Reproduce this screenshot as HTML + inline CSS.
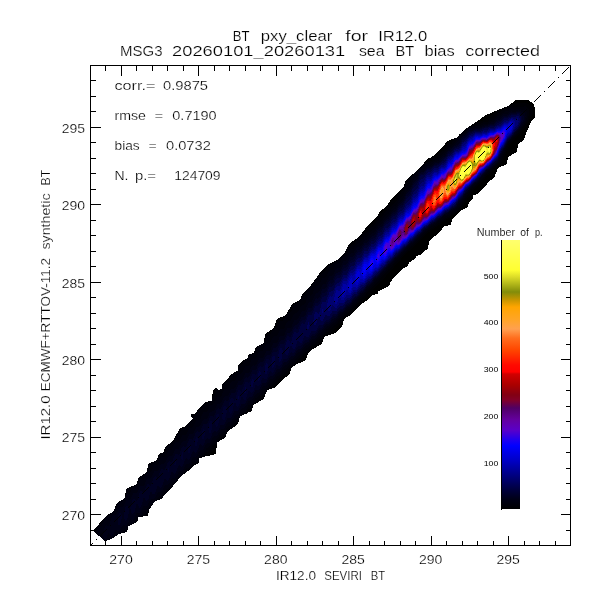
<!DOCTYPE html>
<html><head><meta charset="utf-8"><title>BT pxy_clear for IR12.0</title>
<style>html,body{margin:0;padding:0;background:#fff}svg{display:block}text{font-family:'Liberation Sans', sans-serif;fill:#000;stroke:#fff;stroke-width:0.22px}</style></head><body>
<svg width="600" height="600" viewBox="0 0 600 600">
<rect width="600" height="600" fill="#fff"/>
<defs><linearGradient id="cb" x1="0" y1="0" x2="0" y2="1">
<stop offset="0.0000" stop-color="#ffff6e"/>
<stop offset="0.1115" stop-color="#ffff32"/>
<stop offset="0.1375" stop-color="#dcdc28"/>
<stop offset="0.1933" stop-color="#828c0a"/>
<stop offset="0.2230" stop-color="#c89600"/>
<stop offset="0.2491" stop-color="#ffa500"/>
<stop offset="0.2974" stop-color="#ffa528"/>
<stop offset="0.3309" stop-color="#ffa050"/>
<stop offset="0.3643" stop-color="#ff6e1e"/>
<stop offset="0.4089" stop-color="#ff4600"/>
<stop offset="0.4647" stop-color="#ff0a00"/>
<stop offset="0.4907" stop-color="#ff0000"/>
<stop offset="0.4981" stop-color="#d20000"/>
<stop offset="0.5390" stop-color="#aa0000"/>
<stop offset="0.5762" stop-color="#820014"/>
<stop offset="0.5948" stop-color="#820028"/>
<stop offset="0.6245" stop-color="#500064"/>
<stop offset="0.6691" stop-color="#6400a0"/>
<stop offset="0.7063" stop-color="#5a00c8"/>
<stop offset="0.7435" stop-color="#1e00f0"/>
<stop offset="0.7658" stop-color="#0000ff"/>
<stop offset="0.8178" stop-color="#0000c8"/>
<stop offset="0.8736" stop-color="#000082"/>
<stop offset="0.9294" stop-color="#00003c"/>
<stop offset="0.9665" stop-color="#000014"/>
<stop offset="1.0000" stop-color="#000000"/>
</linearGradient></defs>
<g shape-rendering="crispEdges">
<path fill="#000" d="M93,531L106,516L109,514L113,512L117,503L125,498L126,489L137,484L138,478L147,472L148,464L157,460L159,454L164,452L165,447L173,441L180,428L185,426.7L193,418.7L190.3,416L191.7,414L196.3,413.3L197,410L205,402L211.7,400.7L213,390L216.3,388L219,390L221.7,388.7L222.3,384L228.3,378.7L229.7,376L234.3,372L237.7,371.3L238.3,365.3L243.7,360L247,359L249,354L254,353L256,347L264,343L265,334L274,328L277,319L286,315L292,304L300,300L303,293L311,285L317,277L322,270L329,264L337,260L345,252L349,244L360,236L367,226L377,217L380,211L386,207L392,198L404,186L406,180L420,168L428,158L430,158L436.7,153.3L444.7,145.3L446,142L451.3,139.3L457.3,137.3L459.3,134.7L464.3,130L476,122L486,115L498,110L508,106L516,100L528,100L534,104L535,110L535,118L532,120L526,133L524,140L518,144L517,152L508,157L507,164L498,168L494,178L488,182L486,185.5L482,189.5L478,194L473.5,195L473,198L469.5,201.5L467.5,207.5L460,211L452,219.5L451,225L444,226L440,232L429,241L428,249L425,250.5L421,254.5L416,256L415.5,258.5L409,262.5L407.5,266L403,268.5L395,276L390.5,282L390,285L386.5,287.5L378.5,291L377.5,294L372,295L369,299L360,305L352,314L344,319L342,327L335,333L324,337L322,344L311,350L307,355.5L306.5,358.5L304,361L295,365L291,368L290,374L281,381L274,388L267,390L264,399L253,405L252,411L240,416L238,424L227,432L225,438L217,442L216,454L199,458L199,463L194,465L189,470L181,476L171,488L161,499L155,501L149,510L148,516L138,517L137,522L128,526L127,532L119,534L111,539L105,541Z"/>
<path fill="#000005" d="M531.9,106.1L525.9,102.6L520.6,102.9L518.9,102.4L516.1,103.6L512.1,103.6L506.9,106.9L496.6,111.1L492.9,114.4L490.6,115.6L486.4,119.6L476.1,122.6L464.6,129.9L457.4,137.4L453.4,138.9L448.4,142.4L436.6,154.9L429.9,158.6L428.1,158.9L419.4,168.9L406.1,180.4L404.4,185.6L403.4,187.1L398.1,192.6L395.4,197.4L391.4,201.4L389.1,204.9L384.9,208.6L382.4,212.1L378.6,215.4L375.6,219.6L363.9,231.1L359.4,236.9L349.1,244.4L345.1,252.1L336.9,260.4L328.9,264.4L321.6,270.9L311.4,284.9L303.1,293.1L300.1,300.1L291.9,304.6L286.4,314.9L277.4,319.4L274.1,328.1L265.1,334.4L264.1,343.1L256.6,346.9L255.9,347.6L254.4,352.6L253.4,353.4L249.4,354.1L247.4,358.6L246.6,359.4L243.9,360.1L238.4,365.4L237.9,371.1L234.4,372.1L229.6,376.4L228.6,378.6L222.4,384.1L222.1,387.6L221.4,389.1L219.1,390.1L216.9,388.4L215.9,388.4L213.4,390.4L211.9,400.6L205.1,402.1L197.1,410.1L196.1,413.4L192.4,414.1L190.9,415.4L190.9,416.6L193.1,418.9L185.1,426.9L180.9,427.9L179.6,428.9L173.4,440.9L165.1,447.1L164.4,451.4L163.6,452.4L159.1,454.1L157.4,459.6L155.1,461.1L148.1,464.1L147.1,472.1L138.1,478.1L137.4,483.1L136.6,484.4L126.1,489.1L125.1,498.1L117.1,503.1L113.1,512.1L106.4,515.9L93.9,530.1L93.4,531.4L105.4,541.1L112.1,538.6L119.1,534.1L127.1,532.1L128.1,526.4L137.1,522.1L138.4,517.1L147.6,515.9L149.1,510.1L154.9,501.4L161.1,499.1L171.6,487.6L181.4,475.9L188.6,470.6L194.1,465.1L198.4,463.4L199.1,462.1L199.4,458.1L204.6,456.9L209.6,454.4L213.1,449.9L215.9,447.6L217.1,442.4L224.1,438.4L225.4,436.9L227.1,432.1L237.9,423.9L239.9,416.6L240.6,415.9L246.4,413.6L251.4,410.9L252.6,408.1L253.1,405.1L260.4,400.9L264.1,397.4L266.9,390.6L267.6,389.9L273.9,387.6L284.4,376.9L287.6,374.6L289.4,372.4L291.9,367.4L301.4,361.1L311.9,349.1L315.4,347.1L319.6,342.6L322.4,340.6L324.4,336.9L329.1,334.4L333.4,329.6L335.4,328.6L340.4,323.1L343.1,321.1L343.6,319.6L345.6,317.6L349.6,314.9L353.1,310.6L358.4,305.9L359.9,303.6L365.1,298.9L366.9,296.1L371.6,291.9L373.9,288.6L378.6,284.4L380.9,281.1L385.6,276.6L387.9,273.4L393.1,268.1L395.4,264.9L399.9,260.6L401.9,257.9L425.1,235.4L430.6,230.6L441.4,223.4L444.9,220.4L448.9,218.1L451.4,215.9L455.6,213.6L458.6,210.9L462.9,205.9L465.4,200.9L469.4,196.1L471.9,191.1L475.4,188.6L480.6,182.9L482.9,181.4L486.1,176.6L496.6,167.6L502.1,160.9L509.1,145.9L525.6,126.4L530.4,117.4L532.1,115.1L533.1,112.4L533.1,109.4Z"/>
<path fill="#00000a" d="M527.1,106.9L525.4,105.9L521.9,107.1L519.1,106.6L513.4,107.1L511.4,106.6L507.4,108.6L504.4,108.9L500.6,112.1L497.4,113.6L493.9,117.4L490.9,118.6L487.1,121.9L483.1,122.4L479.9,124.1L476.4,124.6L473.4,126.1L469.1,127.1L462.1,132.6L457.4,137.9L455.4,138.9L451.6,143.6L448.6,144.9L445.1,149.4L441.1,152.4L437.9,157.4L434.4,158.4L430.4,161.4L428.1,161.6L425.9,162.9L411.9,175.6L406.1,183.6L402.9,190.6L399.1,195.4L396.1,201.6L391.6,205.4L389.1,209.1L384.4,213.1L382.4,216.4L377.9,220.1L375.6,223.9L370.4,228.4L367.1,232.9L364.4,233.9L360.1,239.1L357.6,239.9L353.4,245.1L350.9,245.9L347.6,250.4L339.6,258.6L335.4,261.6L332.1,264.9L329.9,265.6L325.9,270.9L321.9,273.1L319.4,277.4L315.6,280.1L312.4,285.4L307.6,289.6L304.9,294.9L302.4,296.6L300.6,300.1L297.1,304.1L295.1,304.4L293.9,305.6L291.4,311.1L290.1,312.4L288.9,312.4L285.6,316.4L283.9,320.1L283.1,320.6L280.9,320.6L279.4,322.4L277.1,327.4L276.4,328.1L275.1,328.1L272.1,330.6L270.4,334.6L269.4,335.6L266.9,335.6L266.1,336.4L264.1,343.6L258.4,346.6L257.1,347.9L255.1,352.4L253.9,353.6L250.6,354.6L247.6,359.4L244.1,360.9L241.6,365.4L239.4,365.6L237.9,371.4L230.9,375.9L228.9,379.6L223.1,384.4L222.4,388.4L221.1,389.9L219.6,390.6L216.6,389.9L215.4,393.4L212.9,397.6L212.1,400.6L207.9,402.4L206.4,404.1L204.1,404.4L202.1,406.6L200.1,410.9L199.4,411.6L197.9,411.9L196.9,413.4L194.9,414.9L192.9,420.1L190.6,421.9L185.6,427.4L182.6,428.1L181.1,429.1L179.9,432.1L176.6,435.6L173.6,441.1L166.1,447.1L164.4,452.1L159.4,454.9L157.4,460.1L148.6,464.9L147.1,472.1L138.4,478.6L137.4,483.6L136.1,484.9L126.6,489.4L125.1,498.1L117.4,503.1L113.1,512.1L106.6,515.9L94.1,530.6L94.1,531.4L96.4,533.9L105.1,541.1L110.6,539.4L119.1,534.1L126.1,532.1L127.1,530.9L128.1,526.4L136.1,522.1L138.4,517.1L142.9,516.1L146.9,513.6L149.4,508.9L154.9,501.4L160.6,498.9L169.6,489.4L179.9,477.1L188.6,470.1L192.9,465.4L196.1,463.6L197.9,461.6L198.9,458.4L200.1,457.4L203.6,456.1L205.9,452.9L210.6,449.1L213.1,445.4L215.9,443.4L221.6,436.9L224.9,434.6L226.6,431.6L232.4,426.9L233.9,424.4L238.1,420.9L239.6,416.9L240.6,415.6L245.9,412.9L247.9,409.9L252.1,406.4L252.6,405.1L256.6,400.9L259.4,399.1L261.9,395.4L265.4,392.6L266.6,390.4L270.6,386.4L273.9,384.1L277.4,379.6L279.4,378.6L281.4,376.6L284.1,372.9L287.1,371.1L291.6,365.6L293.6,364.6L298.6,358.9L300.9,357.6L304.9,352.6L308.4,350.4L312.1,345.6L315.1,343.9L319.4,338.9L321.6,337.6L325.9,332.6L329.1,330.6L333.6,325.6L335.9,324.4L340.6,319.1L342.4,318.4L347.4,312.6L350.1,310.9L353.1,306.9L357.9,302.9L360.1,299.6L365.1,295.1L368.6,290.6L371.6,288.4L373.9,285.1L379.1,280.4L381.4,277.1L385.9,273.1L387.9,270.1L393.1,265.1L395.1,262.1L398.1,259.6L403.6,253.6L405.6,252.4L410.1,247.4L413.6,244.9L424.6,233.6L430.4,228.9L434.4,226.6L438.4,223.1L441.4,221.6L444.6,218.6L448.1,216.9L451.9,213.6L456.4,211.1L462.4,203.6L465.1,198.6L471.1,189.9L483.6,177.9L485.6,175.1L490.1,171.4L500.6,160.4L508.6,144.1L513.9,137.6L518.6,132.9L521.6,128.4L525.1,124.4L527.4,120.1L529.4,112.4L528.9,109.6Z"/>
<path fill="#00000f" d="M525.9,109.9L525.4,109.4L521.4,109.9L519.4,108.9L516.9,108.9L515.4,109.6L511.4,109.4L507.6,111.4L504.9,111.4L500.9,114.6L497.1,116.1L493.4,120.1L490.6,121.1L487.6,123.6L483.9,123.9L479.9,126.1L476.4,126.1L472.6,127.9L468.9,128.1L465.4,131.9L461.6,134.6L459.4,137.9L451.6,145.9L447.9,148.4L446.1,150.9L440.9,155.6L438.9,158.6L436.9,159.9L433.4,160.9L430.4,163.4L426.6,164.4L424.4,166.4L421.4,167.6L412.9,176.4L410.1,183.1L406.6,186.9L403.1,195.1L399.9,198.4L396.4,205.1L392.1,208.1L389.1,213.1L384.6,216.6L381.9,221.1L378.1,223.9L375.6,227.9L373.6,229.9L371.6,230.9L367.4,236.1L364.6,237.4L360.1,242.6L357.9,243.4L353.6,248.6L350.6,249.9L346.1,255.9L343.1,257.1L340.1,262.4L338.9,263.4L336.9,263.6L335.6,264.9L332.9,269.6L329.9,270.4L328.9,271.4L326.4,276.4L325.1,277.6L322.4,278.4L319.4,284.6L318.1,285.9L316.4,285.9L315.1,286.9L312.1,294.9L311.4,295.6L309.1,295.4L308.1,296.4L305.1,303.6L303.6,304.9L301.9,304.9L297.9,312.4L295.1,313.1L293.9,314.4L291.1,320.4L290.4,321.1L288.6,321.1L287.1,322.1L284.4,327.9L283.4,328.9L281.1,328.9L280.1,329.6L277.4,335.4L276.4,336.4L274.1,336.4L273.1,337.1L269.6,343.9L267.1,343.9L265.9,344.9L262.6,351.1L260.1,351.1L259.1,351.9L256.4,357.6L255.4,358.6L253.4,358.4L252.1,359.1L249.4,364.9L248.1,366.1L246.1,365.9L245.1,366.6L242.4,372.6L240.9,373.9L238.9,373.6L237.9,374.6L235.4,380.4L234.4,381.4L231.9,381.4L230.9,382.4L228.4,388.1L227.4,389.1L224.9,389.1L223.9,390.1L221.4,395.9L220.4,396.9L217.9,396.9L216.9,397.9L214.4,403.6L213.4,404.6L210.9,404.6L209.9,405.6L207.1,411.6L206.4,412.4L203.9,412.1L202.9,413.1L200.4,418.9L198.9,420.1L197.1,419.6L196.1,420.4L193.4,426.6L192.4,427.6L189.4,427.6L186.4,434.1L185.4,435.1L183.1,434.6L182.1,435.4L179.1,441.9L178.1,442.6L175.9,442.1L174.9,443.1L171.9,449.6L168.4,449.9L165.4,456.4L164.4,457.4L162.1,456.9L161.1,457.6L158.4,463.9L157.4,464.9L154.9,464.4L153.9,465.4L151.4,471.4L150.4,472.4L148.1,471.9L146.4,473.9L144.1,479.1L143.1,479.9L141.4,479.1L140.6,479.4L137.1,486.4L136.1,487.1L135.1,486.6L133.1,487.1L129.6,494.1L128.9,494.4L127.6,493.6L126.6,494.1L125.4,498.4L122.6,501.4L120.6,501.9L118.1,503.6L116.4,507.9L113.9,511.6L110.9,513.9L108.1,517.4L106.4,517.6L104.9,519.1L102.1,525.4L101.1,526.4L99.1,526.6L98.1,527.6L96.6,531.1L96.6,533.1L103.6,539.6L105.9,540.6L111.9,538.4L116.1,535.1L120.6,533.1L122.9,530.6L125.9,529.9L127.6,526.4L129.4,524.6L133.4,522.9L137.6,516.9L140.6,515.9L144.4,510.6L146.9,509.9L150.1,504.9L152.9,503.1L158.4,496.9L161.1,495.9L163.9,491.4L165.4,489.9L167.6,489.1L168.9,487.9L171.4,483.6L175.1,481.6L178.1,476.9L179.4,475.6L182.4,474.1L184.9,470.1L186.6,468.4L188.9,467.6L189.9,466.6L192.4,462.4L195.4,460.9L197.1,459.1L199.1,455.6L203.9,452.4L206.4,448.1L209.4,446.6L211.1,444.9L213.4,441.1L216.6,439.4L220.4,434.1L223.6,432.4L225.1,430.9L227.1,427.4L231.9,424.1L233.9,420.6L235.6,418.9L237.6,418.1L241.1,413.1L246.1,409.4L248.1,405.9L249.4,404.6L251.4,403.9L253.1,402.1L255.4,398.4L258.4,396.6L260.1,394.9L262.4,391.1L265.4,389.4L267.1,387.6L268.9,384.6L274.1,380.6L277.1,376.4L280.1,374.9L282.9,370.9L284.4,369.4L286.6,368.4L290.9,362.9L293.9,361.4L298.6,355.6L301.1,354.4L304.9,349.4L308.4,347.4L312.4,342.4L314.6,341.4L319.4,335.9L321.9,334.6L326.4,329.4L328.6,328.4L332.6,323.6L336.1,321.6L340.1,316.9L342.4,315.9L347.4,310.1L350.4,308.1L353.1,304.4L356.4,301.9L360.4,296.9L364.6,293.4L366.9,290.1L371.9,285.9L375.6,281.1L378.4,279.1L380.9,275.6L386.4,270.4L388.6,267.1L392.9,263.4L396.4,258.9L399.1,256.9L403.9,251.6L405.9,250.4L408.6,247.1L412.4,244.1L417.9,238.4L420.1,236.9L424.9,231.6L427.1,230.4L431.1,226.6L435.1,224.4L437.9,221.6L441.4,219.9L444.9,216.6L448.9,214.6L452.4,211.4L455.4,210.1L458.9,205.1L462.4,201.6L465.1,196.4L470.9,188.9L476.1,184.4L483.4,176.9L485.6,173.6L489.6,170.6L499.4,160.6L508.4,142.6L518.6,131.4L524.9,122.6L526.1,120.1L526.9,116.9L526.6,112.1Z"/>
<path fill="#000016" d="M523.6,112.6L518.9,110.4L517.9,110.4L515.1,111.9L511.1,111.4L507.9,113.6L503.9,114.1L500.9,117.1L497.1,118.4L494.1,121.9L491.1,122.6L487.1,125.1L483.4,125.6L479.4,127.9L475.9,127.9L473.6,129.1L469.4,129.4L465.6,133.6L461.9,136.1L458.1,141.9L455.6,143.6L452.1,147.4L447.9,150.1L445.1,154.1L442.6,155.9L437.9,161.4L434.1,162.1L431.1,165.4L430.1,165.9L427.4,165.9L423.4,169.9L421.4,169.9L419.4,171.1L417.1,176.6L413.4,180.1L410.4,187.4L406.6,191.6L403.1,198.9L399.9,202.4L396.1,208.1L391.9,211.4L389.6,215.1L384.6,219.4L382.1,223.6L377.9,226.9L375.4,231.4L371.4,233.9L368.6,238.4L367.4,239.6L364.6,240.4L361.9,244.6L360.1,246.4L357.6,246.9L353.4,252.9L350.9,253.6L349.6,254.9L346.4,260.4L343.9,260.9L342.9,261.9L340.4,267.1L339.4,268.1L337.1,268.1L336.1,268.9L333.4,274.6L332.1,275.9L330.1,275.6L329.1,276.4L325.9,283.6L324.9,284.4L322.9,284.4L319.1,291.9L317.6,293.1L316.4,293.1L315.1,294.4L312.1,301.4L310.9,302.4L309.4,302.1L308.1,303.1L305.4,310.1L304.1,311.4L302.1,311.1L301.4,311.6L298.4,318.6L297.1,319.9L294.9,319.6L294.1,320.4L291.1,327.6L290.4,328.4L288.9,327.9L287.4,328.1L284.4,334.9L283.1,336.1L281.1,335.4L279.9,336.4L277.1,342.9L276.4,343.6L273.9,343.1L272.9,344.1L270.6,349.6L269.1,351.1L267.6,350.6L266.4,350.9L263.6,356.9L262.1,358.4L260.1,357.9L258.9,358.9L256.6,364.1L255.1,365.6L252.9,365.4L252.1,365.9L249.4,371.9L248.1,373.1L245.6,373.1L242.4,379.6L240.9,380.9L238.4,381.1L235.1,387.6L233.6,388.6L231.9,388.6L230.9,389.6L228.4,394.9L227.1,396.1L225.4,396.1L223.9,397.4L221.4,402.6L220.4,403.6L217.4,404.4L214.1,410.6L213.4,411.4L210.9,411.6L209.9,412.6L207.4,417.9L206.4,418.9L204.1,419.1L203.1,419.9L200.4,425.4L199.1,426.6L197.1,426.6L196.1,427.4L193.4,432.9L192.4,433.9L189.9,434.1L188.9,435.1L186.4,440.4L185.4,441.4L183.1,441.4L182.1,442.1L179.1,448.1L178.1,448.9L175.9,448.9L174.9,449.9L172.4,455.1L170.9,456.4L169.1,456.1L168.1,456.9L165.4,462.6L164.4,463.6L161.9,463.6L160.9,464.6L158.4,470.1L157.4,471.1L155.4,470.9L154.4,471.4L151.1,477.9L150.1,478.6L148.1,478.4L146.9,479.4L144.4,484.9L143.4,485.9L141.1,485.6L139.9,486.6L137.4,492.1L136.4,493.1L133.9,492.9L132.9,493.9L130.4,499.4L129.4,500.4L127.4,499.9L126.1,500.6L123.4,506.6L122.4,507.6L120.1,507.1L119.1,507.9L116.1,514.9L115.4,515.6L113.1,515.1L112.1,516.1L108.9,525.9L108.1,526.4L106.6,525.1L105.9,525.1L104.6,527.1L103.4,532.4L103.4,536.1L103.9,538.1L104.9,539.4L105.9,539.1L108.6,532.4L111.6,536.1L112.4,535.9L115.6,529.9L116.6,529.9L117.9,531.1L119.1,531.1L122.9,525.4L126.1,525.6L130.1,519.4L132.4,519.6L133.9,518.4L135.9,514.1L137.1,512.6L139.1,512.9L140.1,512.4L143.1,506.9L144.1,505.9L146.6,505.9L148.1,504.4L150.1,500.1L151.1,499.1L153.9,498.9L155.6,496.6L157.1,493.4L158.4,492.1L160.6,492.1L162.4,490.1L164.1,486.4L165.4,485.1L167.4,485.1L168.9,483.9L171.9,478.4L174.4,478.1L175.6,477.1L178.4,471.9L179.4,471.1L181.6,470.9L183.1,469.4L185.4,464.9L186.1,464.1L188.9,463.6L190.4,461.9L192.4,457.9L193.6,456.9L195.4,456.9L196.6,455.9L199.1,451.1L200.6,449.9L202.6,449.6L204.1,448.1L206.1,444.1L207.4,442.9L209.6,442.6L211.4,440.6L213.1,437.1L214.6,435.9L216.6,435.6L218.4,433.6L220.4,429.9L221.9,428.9L223.6,428.6L225.1,427.1L226.9,423.6L228.4,422.1L230.6,421.6L231.9,420.4L235.1,415.1L238.4,413.9L240.9,409.4L242.4,407.9L243.9,407.6L245.9,406.1L248.1,401.9L249.4,400.6L251.1,400.4L252.9,398.9L255.9,393.9L259.4,392.4L262.1,387.6L263.4,386.4L265.9,385.6L268.9,380.9L270.4,379.4L272.6,378.9L274.1,377.4L276.9,372.9L279.9,371.9L284.1,365.9L287.1,364.9L290.1,360.1L291.6,358.9L293.9,358.4L296.9,353.9L298.4,352.4L300.9,351.6L305.1,345.9L307.6,345.1L311.9,339.6L315.1,338.4L319.1,333.1L321.9,332.1L326.1,326.9L328.9,325.9L333.4,320.6L336.1,319.4L340.1,314.6L342.4,313.6L347.4,307.9L350.1,306.4L354.6,300.9L356.9,299.6L359.6,295.9L364.4,291.9L366.9,288.4L370.6,285.4L374.4,280.6L378.9,276.9L381.1,273.6L385.9,269.4L388.1,266.1L392.9,261.9L395.4,258.4L398.4,256.1L401.6,252.4L405.4,249.4L410.9,243.6L412.9,242.4L424.4,230.6L427.1,229.1L431.1,225.4L434.4,223.6L438.1,220.1L441.9,218.1L444.6,215.4L447.9,213.9L451.4,210.6L455.6,208.4L458.4,203.9L462.4,199.6L465.1,194.6L470.9,187.6L477.1,182.1L487.1,170.9L490.1,169.1L498.4,160.6L507.6,142.4L518.6,130.1L523.9,121.9L525.4,118.6L525.6,116.1L524.9,113.9Z"/>
<path fill="#000021" d="M120.1,512.9L119.4,513.1L118.6,514.4L117.6,518.9L117.6,522.1L118.6,525.1L119.4,525.1L120.4,523.6L121.9,517.9L121.4,514.4ZM127.4,505.6L126.1,506.1L125.1,508.1L123.6,514.6L124.1,518.6L125.6,521.1L126.1,521.1L127.1,519.6L129.1,511.4L129.1,508.9ZM520.9,112.9L519.1,111.9L517.4,111.9L514.6,113.4L511.1,112.9L507.6,115.4L504.1,115.9L500.6,119.4L497.6,119.9L493.4,123.9L490.9,124.1L486.6,126.4L483.4,126.6L479.4,128.9L476.6,128.9L473.4,130.4L469.4,130.9L465.4,135.6L463.1,136.6L461.6,138.1L459.1,143.4L457.6,144.9L455.4,145.6L451.1,149.9L448.9,150.9L447.4,152.4L445.4,155.9L442.6,157.9L438.4,162.9L434.9,163.6L430.9,167.4L427.4,167.9L423.9,171.6L420.1,172.9L417.1,179.4L412.9,184.1L409.9,190.9L406.1,194.9L403.4,201.1L399.1,205.4L396.1,210.4L391.9,213.4L388.6,218.9L385.4,220.6L382.4,226.1L377.9,229.4L374.9,234.9L371.9,236.4L370.6,237.6L368.1,241.9L364.4,243.4L360.4,249.4L357.6,249.9L353.4,256.6L350.9,256.9L349.9,257.9L347.4,263.6L346.1,264.9L344.1,264.9L343.1,265.6L340.6,270.9L339.1,272.4L336.9,272.6L335.9,273.6L333.1,279.1L332.4,279.9L329.9,280.4L328.9,281.4L326.1,287.6L325.1,288.6L323.1,288.6L322.1,289.6L319.1,297.6L317.9,298.6L315.9,298.4L314.9,299.6L312.1,307.1L311.4,307.9L308.9,307.6L308.1,308.4L304.9,316.1L303.6,316.9L301.9,316.6L301.1,317.4L298.1,323.9L294.1,325.9L291.1,331.9L290.4,332.6L288.4,332.6L286.9,333.9L284.4,339.1L283.4,340.1L281.4,340.1L279.9,341.4L277.4,346.6L276.1,347.9L274.4,347.6L273.4,348.1L270.4,354.1L269.4,355.1L267.4,354.9L265.6,356.4L262.6,362.4L260.4,362.1L258.6,363.6L256.4,368.9L255.4,369.9L252.9,369.6L251.9,370.6L249.4,376.6L248.4,377.6L245.9,377.4L244.9,378.4L242.4,384.4L241.4,385.4L239.6,384.9L238.4,385.4L235.1,392.6L234.1,393.4L232.6,392.6L231.1,393.4L228.4,400.1L227.4,401.1L225.4,400.4L224.1,401.1L221.1,408.4L220.6,408.9L218.9,408.4L217.1,408.9L214.1,416.1L213.4,416.9L211.4,415.9L210.1,416.6L207.4,423.6L206.4,424.6L204.6,423.6L203.9,423.6L202.9,424.6L200.4,431.4L199.4,432.4L197.6,431.4L196.1,431.9L193.1,439.4L192.6,439.9L190.6,438.9L189.1,439.4L186.1,446.9L185.6,447.4L183.6,446.4L182.1,446.9L179.4,454.1L178.4,455.1L176.6,453.9L175.6,453.9L174.9,454.6L172.4,461.6L171.4,462.6L169.1,461.1L167.9,462.1L165.1,469.6L164.1,470.1L162.1,468.6L160.9,469.6L158.1,477.4L157.4,477.9L155.1,476.1L153.9,477.1L151.1,485.1L150.4,485.6L148.6,483.9L147.4,483.9L145.9,486.9L144.1,493.1L143.6,493.6L141.6,491.1L140.6,491.1L139.9,491.9L137.1,501.1L136.6,501.6L134.4,498.4L132.9,499.1L130.4,507.9L130.9,511.6L132.6,514.6L134.4,512.4L136.4,503.9L136.9,503.4L137.4,503.6L138.9,507.4L140.1,507.9L141.9,504.1L143.4,497.9L144.1,497.4L145.6,500.4L147.1,501.1L148.4,499.1L150.4,491.9L151.1,491.4L152.9,494.1L154.1,494.4L155.4,492.4L157.4,485.6L158.1,485.1L160.1,487.6L160.9,487.6L162.1,486.1L164.4,479.1L165.1,478.4L167.1,480.6L167.9,480.6L169.4,478.6L171.4,472.4L172.1,471.6L173.9,473.6L174.9,473.6L176.4,471.6L178.4,465.6L179.4,464.9L180.9,466.6L181.9,466.6L183.6,464.1L185.6,458.4L186.4,458.1L187.9,459.6L188.9,459.6L190.6,457.1L192.4,451.9L193.6,451.4L194.4,452.4L195.9,452.6L197.6,450.1L199.4,445.1L200.4,444.4L201.6,445.6L202.9,445.6L203.9,444.6L205.6,439.9L207.1,437.6L209.1,438.9L210.1,438.6L213.1,432.1L214.1,431.1L216.9,431.9L217.9,430.9L220.9,424.6L224.1,424.9L227.4,418.4L228.4,417.6L229.6,418.1L231.1,417.9L234.1,411.9L235.1,410.9L237.6,411.1L238.9,409.9L241.1,404.9L242.1,403.9L244.9,403.9L245.9,402.9L248.1,397.9L249.6,396.6L252.1,396.6L255.1,390.9L256.4,389.6L258.9,389.6L259.9,388.6L262.1,383.9L263.4,382.6L265.1,382.9L266.1,382.4L270.1,375.9L272.6,375.9L274.1,374.4L276.9,369.4L279.9,368.9L281.4,367.1L283.1,363.6L284.4,362.4L286.9,362.1L290.9,356.1L294.1,355.4L297.1,350.4L298.1,349.4L300.9,348.9L305.1,342.9L308.1,342.1L312.1,336.6L315.1,335.9L318.9,330.6L322.1,329.6L325.9,324.6L329.1,323.6L332.6,318.9L335.9,317.6L340.1,312.6L343.1,311.4L347.1,306.4L349.6,305.1L353.4,300.4L357.1,297.9L360.4,293.4L363.6,291.1L367.1,286.6L371.9,282.9L374.1,279.6L379.1,275.4L381.1,272.4L386.1,267.9L388.4,264.6L393.4,260.1L394.9,257.9L398.6,254.9L401.6,251.4L405.1,248.6L410.9,242.6L412.6,241.6L424.1,229.9L427.6,227.9L430.9,224.6L435.1,222.1L438.1,219.1L441.9,217.1L444.9,214.1L448.9,212.1L451.9,209.1L454.4,208.1L455.9,206.6L457.9,203.1L461.9,198.9L465.1,193.4L473.4,184.1L477.4,180.9L486.6,170.4L489.9,168.4L498.1,159.9L500.9,153.6L505.4,146.4L507.1,142.1L511.4,137.6L514.4,133.4L518.4,129.4L523.9,118.9L524.1,116.6Z"/>
<path fill="#00002c" d="M168.6,468.1L167.6,470.1L167.6,472.1L168.1,472.9L169.1,469.9ZM175.6,459.9L174.9,460.9L174.4,465.1L175.1,466.6L176.4,462.1ZM182.9,452.1L182.4,452.1L181.1,456.9L181.9,460.1L182.6,459.6L183.4,456.4L183.4,453.4ZM189.9,444.4L188.6,445.9L188.1,448.4L188.1,451.6L188.9,453.6L189.9,452.4L190.6,448.6L190.6,446.4ZM197.1,436.9L196.4,436.9L195.6,438.1L194.9,441.9L194.9,444.1L195.9,446.9L196.9,445.6L197.9,439.6ZM204.1,428.9L203.4,429.1L202.6,430.4L201.9,433.6L201.9,437.9L202.9,440.1L204.1,438.4L204.9,434.6L204.9,430.6ZM211.4,421.1L210.1,421.6L208.6,426.4L208.4,429.6L209.6,433.6L210.4,433.4L211.1,431.9L212.4,425.6L212.1,422.9ZM218.4,413.4L216.9,414.1L215.4,419.4L215.1,422.9L215.9,426.1L216.6,427.1L217.9,426.1L219.6,418.6L219.4,415.1ZM225.4,405.4L224.6,405.4L223.4,407.4L221.9,414.1L222.4,418.6L223.6,420.6L224.4,420.4L225.1,418.9L226.9,411.4L226.6,407.1ZM519.6,113.4L518.1,112.9L514.9,114.4L511.4,114.1L507.9,116.6L503.9,117.4L500.6,120.9L497.1,121.9L493.6,125.1L490.6,125.4L486.9,127.4L483.4,127.6L480.1,129.6L476.9,129.6L469.4,132.4L465.4,137.4L463.1,138.4L461.6,139.9L459.4,144.6L457.9,146.1L454.6,147.6L451.1,151.6L448.6,152.6L445.6,157.4L437.6,164.4L434.9,165.1L431.1,168.4L427.4,169.4L424.1,172.9L420.4,174.4L417.1,181.9L413.4,185.4L410.4,192.6L409.4,194.1L406.4,196.6L403.1,204.1L398.6,207.9L396.1,212.6L392.1,215.1L389.1,220.6L385.9,222.4L384.6,223.9L381.9,229.1L378.1,231.4L375.1,237.4L374.1,238.4L372.1,238.6L370.9,239.6L368.6,244.1L367.4,245.4L365.4,245.4L363.6,246.9L361.9,250.6L360.4,252.4L358.1,252.4L356.9,253.4L354.4,258.6L352.9,259.9L351.1,260.1L349.9,261.4L347.4,266.4L346.1,267.6L344.4,267.9L342.9,269.1L340.4,274.1L339.4,275.1L336.9,275.4L335.9,276.4L333.1,282.6L331.6,283.6L330.4,283.4L329.1,284.4L326.1,291.9L325.1,292.9L323.1,292.6L322.1,293.6L319.1,301.9L317.9,302.9L315.4,303.4L312.1,310.6L310.9,311.6L309.6,311.6L308.4,312.4L305.4,318.9L304.1,320.1L302.4,319.9L301.1,320.9L297.9,328.4L297.1,328.9L295.1,328.4L294.1,329.1L291.1,336.1L290.4,336.9L287.9,336.1L286.9,337.1L284.4,343.6L283.4,344.6L281.9,343.9L280.1,344.4L277.1,351.9L275.9,352.4L273.9,351.4L272.9,352.4L270.9,357.9L269.6,359.9L267.6,358.9L266.1,359.4L263.1,366.9L261.9,367.4L260.1,366.1L258.9,367.1L256.6,373.6L255.4,375.1L253.6,373.9L252.1,374.4L249.6,381.6L248.6,383.1L246.4,381.6L245.4,381.9L241.6,391.6L239.1,389.4L237.9,390.4L235.1,400.1L234.4,400.6L232.4,397.4L231.1,397.9L229.6,401.6L228.6,406.4L229.1,411.6L230.6,413.9L231.4,413.6L232.4,411.6L234.1,403.6L234.9,402.4L235.6,403.1L236.6,406.1L237.9,407.1L239.4,404.9L241.1,397.9L241.9,396.6L244.4,400.1L245.4,399.9L248.4,391.4L249.1,390.6L251.1,393.1L252.1,393.1L253.4,391.1L255.4,384.9L256.1,384.1L257.9,386.1L259.1,386.1L260.6,383.6L261.9,379.1L262.9,377.6L265.4,379.4L266.1,379.1L267.4,377.4L269.1,372.1L270.4,371.1L271.9,372.6L272.9,372.6L274.6,370.1L276.4,365.4L277.1,364.6L278.9,365.9L279.9,365.9L280.9,364.9L283.9,358.4L286.1,359.4L287.1,359.1L290.4,352.9L291.4,352.1L292.9,352.9L294.1,352.6L297.4,346.6L298.4,345.9L299.6,346.4L301.1,346.1L305.1,339.6L307.9,339.9L312.1,333.9L314.9,333.9L318.9,328.1L321.9,327.6L325.9,322.4L329.1,321.6L333.1,316.4L336.1,315.6L339.6,311.1L343.4,309.6L346.6,305.1L349.9,303.6L354.6,297.9L356.9,296.9L360.1,292.4L363.6,289.9L367.4,285.1L370.4,283.1L373.6,279.1L379.1,274.4L380.9,271.6L386.4,266.6L388.4,263.6L391.4,261.4L394.4,257.6L398.9,253.9L403.6,248.6L405.4,247.6L410.9,241.9L412.9,240.6L417.6,235.4L419.4,234.4L424.1,229.1L426.6,227.9L431.1,223.6L434.1,222.1L438.1,218.4L441.1,216.9L444.9,213.4L448.1,211.9L451.9,208.4L454.1,207.4L455.6,205.9L458.6,201.1L462.9,196.4L466.1,190.9L473.4,183.4L477.4,180.1L486.4,169.9L489.6,167.9L493.6,163.1L497.9,159.4L501.1,152.1L504.6,146.9L507.1,141.4L511.6,136.6L514.1,132.9L518.1,128.9L520.4,124.9L522.1,118.4L521.4,115.6Z"/>
<path fill="#00003c" d="M238.6,395.9L237.9,397.1L238.1,399.6L238.9,398.1ZM245.6,386.9L244.9,387.9L244.4,392.4L245.1,393.9L246.4,389.9ZM252.9,378.6L251.6,380.1L251.1,382.9L251.1,385.6L251.9,387.6L252.4,387.6L253.6,382.6L253.6,380.6ZM260.1,370.6L259.1,371.1L258.1,373.9L257.9,378.6L258.6,381.1L259.9,380.1L260.9,375.4L260.9,372.9ZM267.1,363.1L266.1,363.6L265.4,365.1L264.6,368.9L264.6,371.6L265.6,374.6L266.1,374.6L267.1,373.1L268.1,368.1L268.1,365.6ZM274.1,355.6L273.1,356.1L272.4,357.6L271.4,362.4L271.6,366.1L272.9,368.4L274.6,365.1L275.4,360.6L275.1,357.1ZM281.4,347.9L280.6,347.9L279.4,349.9L278.1,355.6L278.6,360.4L279.6,361.9L280.6,361.4L281.4,359.6L282.6,353.9L282.6,350.4ZM518.9,114.1L517.6,114.1L514.9,115.4L511.1,115.4L507.6,117.9L504.6,118.1L500.9,121.9L497.6,122.9L493.6,126.4L490.1,126.4L486.9,128.4L483.9,128.4L479.9,130.6L475.9,130.6L469.6,133.4L464.9,138.9L462.4,140.4L459.4,145.9L458.4,146.9L455.4,148.1L451.6,152.4L448.9,153.9L443.4,160.9L440.9,162.4L437.6,165.4L434.4,166.4L430.9,169.6L427.1,170.6L424.1,174.4L421.6,175.1L420.4,176.4L417.1,184.4L413.1,187.9L410.1,195.6L406.4,198.9L402.9,206.6L398.9,209.4L396.4,214.1L395.1,215.4L392.4,216.6L389.1,222.6L388.1,223.6L386.1,224.1L384.9,225.4L382.1,231.1L381.1,232.1L378.4,233.1L374.9,240.1L371.6,241.1L368.6,246.1L367.4,247.4L364.6,248.1L360.4,254.4L357.9,254.9L356.9,255.9L354.4,260.9L353.1,262.1L350.4,262.9L347.4,269.1L346.1,270.4L343.4,270.9L340.4,276.9L338.9,278.1L337.4,277.9L336.1,278.9L333.4,285.6L332.1,286.9L330.1,286.6L329.4,287.1L326.4,294.9L325.4,296.1L323.1,296.6L322.4,297.4L319.4,304.4L318.1,305.6L316.4,305.6L315.1,306.6L312.1,314.4L311.4,315.1L309.4,314.6L307.9,315.9L305.9,321.9L304.4,324.1L302.6,323.4L301.1,324.1L298.1,333.1L297.1,333.6L295.4,332.1L294.4,332.4L292.4,337.1L291.1,342.6L290.6,343.1L289.4,340.9L288.1,339.9L286.9,340.9L285.4,345.1L284.6,349.6L285.4,353.9L286.6,355.6L287.6,355.1L288.4,353.6L290.1,346.1L290.9,345.1L293.1,349.4L294.4,349.4L297.9,340.4L299.6,342.6L300.9,343.4L301.9,342.4L303.6,337.4L304.9,335.6L307.1,337.4L307.9,337.4L309.1,336.1L311.1,331.6L312.1,330.6L314.9,331.6L316.1,330.4L318.9,325.4L322.4,325.4L325.9,320.1L329.1,319.9L332.9,314.6L336.4,313.9L340.1,309.1L343.1,308.4L346.9,303.4L350.1,302.1L354.1,296.9L356.6,295.9L360.1,291.1L363.9,288.6L368.4,283.1L371.1,281.6L373.9,277.9L379.4,273.1L381.1,270.4L386.1,266.1L387.9,263.4L391.9,260.1L396.9,254.4L398.6,253.4L403.4,248.1L405.9,246.6L410.6,241.4L412.4,240.4L416.9,235.4L420.1,233.1L424.4,228.4L426.9,227.1L430.4,223.6L434.4,221.4L437.9,217.9L441.6,215.9L444.6,212.9L447.9,211.4L451.9,207.6L455.1,205.6L458.4,200.6L462.6,195.9L466.1,190.1L477.6,179.1L486.9,168.9L489.1,167.6L497.9,158.6L501.4,150.9L504.6,146.1L506.9,141.1L512.1,135.4L514.1,132.1L517.6,128.6L519.6,125.4L521.1,119.4L520.4,115.9Z"/>
<path fill="#000056" d="M309.1,321.9L308.6,321.9L307.9,323.1L307.4,325.6L307.4,328.4L308.1,329.6L308.9,328.9L309.6,326.1ZM518.6,116.4L517.1,116.1L515.4,117.1L511.4,116.9L507.6,119.9L504.1,120.4L500.6,124.1L497.4,124.9L493.4,128.1L490.1,127.9L486.9,130.1L483.4,130.1L479.9,132.1L475.6,131.9L473.1,133.6L469.9,134.9L466.4,139.4L462.4,142.4L459.6,147.9L458.4,148.9L456.4,149.1L454.4,150.4L451.4,154.4L447.9,156.6L445.1,161.4L443.6,162.9L441.1,163.9L437.4,167.9L434.4,168.4L430.6,172.1L428.1,172.4L426.1,174.1L423.6,178.4L421.1,179.6L420.1,180.9L417.1,188.6L413.4,191.6L409.9,200.1L406.1,202.9L403.4,209.6L401.9,210.9L400.1,211.1L398.9,212.4L396.1,218.1L395.1,219.1L393.1,219.4L391.9,220.6L389.1,226.4L388.1,227.4L386.1,227.9L384.9,229.1L382.1,234.6L378.4,236.9L375.4,242.6L373.9,243.9L371.9,244.1L370.6,245.4L367.6,250.6L364.9,251.1L363.9,252.1L361.6,256.6L360.1,258.1L358.6,258.1L357.1,259.1L353.9,265.9L353.1,266.4L351.1,266.4L349.9,267.6L346.9,274.6L346.1,275.1L343.9,274.9L342.9,275.9L340.4,281.6L339.1,282.9L336.4,283.6L332.9,290.9L329.4,292.4L325.9,301.6L325.1,302.4L323.9,301.9L322.6,302.1L321.4,304.4L318.9,313.9L318.4,314.1L316.4,311.6L315.4,312.1L314.6,313.6L313.4,320.6L313.6,323.1L314.6,325.6L315.4,325.6L316.4,323.9L317.6,318.6L318.6,316.6L319.4,317.1L321.1,320.9L322.4,321.1L325.6,314.6L326.4,314.6L328.1,316.4L329.4,316.1L332.9,310.4L336.1,311.1L340.1,305.9L342.9,305.9L346.9,300.6L349.9,299.9L354.1,294.4L356.6,293.6L361.6,287.4L363.6,286.9L368.1,281.4L370.9,280.1L373.6,276.4L379.1,271.9L380.9,269.1L386.1,264.6L387.9,261.9L391.4,259.1L396.1,253.6L398.4,252.4L403.1,247.1L405.4,245.9L410.1,240.6L412.6,239.1L417.6,233.6L420.4,231.9L423.4,228.1L427.9,225.4L430.6,222.4L434.4,220.4L438.1,216.6L440.9,215.4L444.9,211.6L448.4,209.9L455.4,203.9L458.6,198.9L463.1,193.9L465.9,189.1L474.9,180.9L479.6,175.4L497.6,157.9L501.1,149.9L504.4,145.4L507.1,139.6L511.6,134.9L514.1,130.6L518.1,126.1L519.6,122.4L519.6,118.4Z"/>
<path fill="#000070" d="M322.9,308.4L321.9,310.1L321.6,312.9L322.1,314.1L323.4,311.9ZM517.6,118.4L515.9,118.9L514.1,118.9L512.6,118.1L510.9,118.4L507.9,121.1L504.1,122.1L501.1,125.6L497.4,126.4L494.1,129.1L490.1,129.1L486.4,131.9L483.6,131.4L480.1,133.4L475.9,132.9L472.9,135.4L469.9,136.4L468.1,138.1L466.6,140.9L463.1,143.4L459.9,149.4L458.1,150.6L455.1,151.1L452.6,154.9L451.4,156.1L449.4,156.9L447.6,158.6L444.4,164.6L440.9,165.6L437.6,169.9L434.1,170.4L430.4,174.6L427.9,174.9L426.6,175.9L424.1,181.4L420.4,183.9L416.9,192.9L413.6,194.6L410.1,203.4L409.4,204.4L406.4,205.9L403.1,212.6L400.1,214.1L398.9,215.4L396.1,220.6L392.1,223.1L389.1,228.9L386.1,230.4L384.9,231.6L382.1,237.4L378.1,239.9L375.4,245.4L374.1,246.6L372.1,246.6L371.1,247.4L368.4,252.9L367.4,253.9L365.1,253.9L363.9,254.9L361.1,260.9L360.4,261.6L358.1,261.6L357.1,262.4L354.4,268.6L353.1,269.9L350.4,270.9L346.4,277.9L344.4,278.1L342.9,279.4L340.1,285.4L339.1,286.4L337.1,286.4L336.4,286.9L335.1,289.1L333.1,295.9L332.1,296.9L329.9,296.1L328.1,299.9L327.4,304.1L327.4,307.9L328.9,311.6L329.9,310.9L332.6,304.9L334.9,307.6L335.9,308.1L337.1,307.1L339.6,302.6L340.1,302.4L342.9,303.4L343.9,302.6L346.9,297.9L350.1,297.6L354.1,292.1L356.6,291.6L361.1,285.6L363.9,284.9L368.4,279.4L371.1,278.4L373.9,274.4L375.4,272.9L377.9,271.9L381.1,267.1L384.6,264.9L389.4,258.9L392.1,257.4L396.6,252.1L399.4,250.6L403.1,246.1L406.4,244.1L410.1,239.6L412.4,238.4L417.4,232.9L419.6,231.6L424.1,226.6L427.1,225.1L431.1,221.1L434.9,219.1L437.9,215.9L441.1,214.4L444.6,210.9L448.6,208.9L455.9,202.1L458.4,198.1L463.1,192.9L465.4,188.9L475.1,179.9L480.4,173.6L487.4,166.9L489.1,165.9L497.4,157.4L500.9,149.1L504.4,144.4L507.4,138.1L511.4,134.1L515.1,127.6L517.6,124.9L518.6,121.9L518.4,119.4Z"/>
<path fill="#00008b" d="M513.6,120.1L512.1,119.4L510.9,119.6L507.9,122.4L503.9,123.6L500.9,127.1L497.1,127.6L494.1,130.1L490.4,130.1L486.9,132.9L483.1,132.6L480.1,134.6L477.6,133.9L475.4,134.1L472.9,136.9L470.4,137.6L468.6,138.9L466.6,142.6L462.4,146.6L460.6,149.9L458.9,151.6L455.6,152.1L452.4,156.9L448.1,159.6L445.4,165.4L444.4,166.4L441.1,166.9L437.9,171.6L434.1,171.9L430.6,176.9L427.9,176.9L426.1,178.9L424.1,185.1L423.1,186.1L421.6,186.1L420.4,187.1L417.4,195.1L415.9,196.9L413.4,198.4L410.4,205.4L406.1,208.9L403.1,214.6L400.1,216.1L398.9,217.4L395.6,223.4L392.1,225.1L389.1,231.1L388.1,232.1L386.1,232.6L384.9,233.9L381.9,240.4L380.9,241.1L379.1,241.4L378.1,242.4L375.6,247.6L374.1,249.1L371.6,249.4L368.1,255.6L366.6,256.6L364.6,256.9L361.1,263.1L357.1,265.4L353.9,271.9L352.9,272.6L351.4,272.6L350.1,273.6L347.1,280.4L346.1,281.1L344.6,280.6L343.4,281.1L339.9,290.4L338.9,290.9L337.1,289.9L336.1,290.9L334.4,297.4L334.4,300.6L335.6,304.1L337.1,303.4L338.9,298.4L339.9,297.4L341.6,299.9L343.1,300.6L346.9,294.6L349.9,295.6L354.1,289.6L356.9,289.6L360.6,283.9L364.1,283.1L368.1,277.9L371.1,276.9L373.9,272.9L375.4,271.4L377.6,270.6L381.4,265.4L384.6,263.6L389.6,257.4L391.6,256.6L396.1,251.4L398.9,250.1L403.1,245.1L405.6,243.9L410.6,238.4L412.6,237.4L417.6,231.9L419.9,230.6L424.1,225.9L426.9,224.6L431.1,220.4L434.9,218.4L438.1,214.9L441.1,213.6L444.9,209.9L448.6,208.1L455.6,201.6L458.6,196.9L463.6,191.4L465.1,188.4L469.1,185.1L473.4,180.4L475.6,178.9L479.4,174.1L486.6,166.9L489.6,164.9L492.9,160.9L497.1,156.9L500.9,148.1L503.9,144.4L507.9,136.1L510.9,133.6L513.9,128.4L515.4,124.4L515.4,122.4Z"/>
<path fill="#0000a5" d="M512.6,120.9L511.4,120.6L510.4,121.1L507.6,123.9L504.6,124.1L500.9,128.1L497.4,128.6L493.9,131.1L490.6,130.9L486.9,133.9L483.4,133.6L480.1,135.6L477.1,134.6L475.4,135.1L472.4,138.6L470.6,138.9L468.6,140.4L465.6,145.6L462.9,147.9L458.9,152.9L455.6,153.4L452.4,158.4L451.1,159.6L448.4,160.9L445.9,166.4L444.4,168.1L441.1,168.1L438.9,172.4L437.6,173.6L435.9,173.1L434.1,173.4L431.6,178.1L430.4,179.4L427.9,179.1L427.1,179.6L424.4,187.1L423.1,188.6L420.4,190.1L416.9,198.1L413.6,200.1L410.1,207.9L406.4,210.4L403.4,216.1L398.9,219.1L396.4,224.4L391.9,227.4L389.1,233.4L388.1,234.4L386.1,234.6L384.9,235.9L382.4,241.9L380.9,243.4L378.4,244.4L374.4,250.6L372.4,251.1L370.9,252.4L367.6,257.9L365.4,258.4L363.9,259.6L361.1,265.4L360.4,266.1L358.1,266.4L356.9,267.6L353.9,275.1L353.4,275.6L350.9,275.4L350.1,276.1L347.1,284.1L346.4,284.9L344.6,283.9L343.1,284.6L341.4,290.6L341.4,294.1L342.1,296.6L342.9,297.4L344.1,296.4L346.6,289.9L347.4,290.1L349.4,293.1L350.1,293.1L351.1,292.1L352.6,288.1L353.9,286.4L356.6,287.6L357.9,286.6L360.6,281.6L364.1,281.6L367.6,276.4L371.4,275.4L373.9,271.4L375.4,269.9L377.9,269.1L380.9,264.6L382.4,263.1L384.6,262.4L389.6,256.1L391.9,255.4L396.1,250.4L399.6,248.6L402.9,244.4L405.9,242.9L410.1,237.9L412.6,236.6L416.1,232.4L419.6,230.1L423.9,225.4L427.6,223.4L431.1,219.6L434.4,218.1L437.9,214.4L441.1,212.9L444.9,209.1L448.4,207.6L452.6,203.1L455.4,201.1L458.9,195.6L463.1,191.4L465.4,187.4L469.1,184.6L473.6,179.6L476.1,177.9L479.6,173.1L486.6,166.4L490.1,163.9L497.4,155.9L500.4,148.1L504.1,143.1L507.6,135.4L511.4,131.9L512.9,129.1L513.9,123.6Z"/>
<path fill="#0000bf" d="M343.9,288.1L343.1,289.1L343.1,292.4L344.1,291.4ZM351.1,278.1L350.1,278.9L348.6,283.1L348.4,286.9L349.6,290.1L350.4,290.1L351.1,289.1L352.9,282.6L352.4,279.1ZM512.1,122.1L510.6,122.1L507.6,125.1L505.1,124.9L504.1,125.4L501.1,128.9L497.6,129.4L494.1,131.9L490.4,131.9L487.1,134.6L483.6,134.4L480.1,136.4L477.6,135.6L475.4,136.1L472.4,139.9L470.4,140.1L468.6,141.6L465.6,147.9L464.6,148.9L462.4,150.1L459.1,153.9L455.6,154.6L452.1,160.1L448.1,162.6L445.9,168.1L444.6,169.4L441.4,169.4L439.1,173.6L437.9,174.9L434.6,174.6L431.1,180.4L430.1,181.1L428.1,181.1L427.4,181.9L424.1,189.6L420.1,192.4L417.1,199.9L413.4,202.4L410.1,209.6L405.9,212.6L403.4,217.9L402.1,219.1L400.4,219.4L399.1,220.4L396.4,226.4L395.1,227.6L393.1,227.9L391.9,229.1L389.4,234.9L388.1,236.1L385.6,236.9L382.4,243.4L380.9,244.9L378.4,245.9L374.4,252.4L371.9,252.9L370.6,254.1L367.6,259.9L364.9,260.1L363.9,261.1L360.9,268.4L360.4,268.9L357.9,268.6L357.1,269.4L355.6,273.1L354.4,279.4L355.4,283.9L356.4,285.1L357.9,284.4L359.9,279.6L360.9,278.6L363.6,280.1L365.1,278.9L366.9,275.4L368.1,274.1L370.9,274.4L375.1,268.4L377.6,268.1L382.1,261.9L384.9,261.1L389.4,255.1L391.6,254.6L396.1,249.4L398.9,248.4L403.4,243.1L405.9,242.1L410.4,236.9L412.6,235.9L417.1,230.6L419.4,229.6L423.9,224.6L427.1,223.1L431.1,218.9L434.1,217.6L437.6,213.9L441.4,212.1L444.4,208.9L448.1,207.1L452.9,202.1L455.4,200.4L458.6,195.1L462.9,191.1L464.9,187.4L466.9,185.4L468.9,184.4L473.6,179.1L475.9,177.6L479.4,172.9L486.4,166.1L489.9,163.6L493.6,158.9L497.1,155.6L499.9,148.4L503.6,143.1L507.4,134.4L510.1,132.1L511.9,129.9L512.9,126.9L512.9,123.6Z"/>
<path fill="#0000d7" d="M358.6,271.1L357.9,271.1L356.9,272.4L355.9,275.9L355.9,280.1L356.9,282.1L357.6,281.9L358.4,280.6L360.1,274.9L359.9,272.6ZM511.4,123.4L510.9,123.4L508.1,126.6L504.6,126.1L501.4,129.6L497.6,130.1L494.1,132.6L490.4,132.6L487.1,135.4L483.4,135.1L479.4,137.1L477.4,136.4L476.1,136.6L472.6,141.1L469.4,141.9L466.9,146.4L465.9,149.6L464.6,150.9L462.1,151.6L458.9,155.1L455.9,155.6L454.6,156.9L452.4,161.4L451.1,162.6L448.6,163.4L446.4,168.6L445.1,170.1L442.1,170.6L437.9,175.9L434.9,176.1L433.1,178.1L431.1,181.9L430.1,182.6L428.6,182.6L427.4,183.6L424.1,191.6L420.1,194.1L416.9,202.1L413.4,204.1L409.9,211.9L408.9,212.6L407.1,212.9L405.9,214.1L403.4,219.6L402.1,220.9L399.4,221.6L396.4,227.9L394.9,229.4L393.1,229.6L391.9,230.9L389.4,236.1L384.9,239.4L381.9,245.9L380.9,246.6L378.4,247.1L374.9,253.9L374.1,254.4L372.1,254.1L371.1,254.9L368.4,261.1L367.4,262.1L364.9,261.9L364.1,262.6L362.4,266.9L360.9,273.4L363.4,278.1L364.1,278.1L365.1,277.1L366.9,272.9L367.9,271.9L369.9,272.9L371.4,272.6L375.1,266.6L377.9,266.6L382.1,260.4L385.1,259.9L388.9,254.1L392.1,253.4L395.9,248.6L399.1,247.4L403.1,242.4L405.9,241.4L409.9,236.4L413.1,234.9L417.1,229.9L419.9,228.6L423.6,224.1L427.4,222.4L430.9,218.4L434.4,216.9L438.1,212.9L441.6,211.4L444.9,207.9L448.4,206.4L452.6,201.6L455.6,199.4L458.9,194.1L462.6,190.9L464.9,186.9L466.9,184.9L468.6,184.1L473.6,178.6L475.6,177.4L479.9,171.6L489.6,163.4L493.6,158.4L496.9,155.4L500.1,146.9L503.9,141.9L507.9,131.9L510.1,130.6L511.6,128.6L512.1,124.6Z"/>
<path fill="#0000ed" d="M505.9,127.1L504.4,127.1L501.1,130.6L497.9,130.6L493.9,133.4L490.4,133.4L487.1,136.1L483.1,135.9L479.9,137.6L476.4,137.4L475.6,137.9L472.9,142.1L470.1,142.6L469.1,143.4L467.6,146.1L466.6,149.6L465.1,151.9L461.9,152.9L458.6,156.4L455.9,156.9L454.1,158.9L452.1,163.1L451.1,164.1L449.4,164.4L448.6,165.1L446.4,169.6L444.9,171.1L441.9,172.1L437.9,176.9L434.9,177.4L433.6,178.6L431.1,183.4L430.1,184.4L428.6,184.4L427.1,185.6L424.1,193.4L422.9,194.6L421.6,194.6L420.1,195.9L417.1,203.6L416.1,204.6L413.6,205.4L410.1,213.1L409.1,214.1L407.1,214.4L406.1,215.1L402.9,221.6L401.9,222.4L400.1,222.6L398.9,223.9L396.1,229.4L392.1,231.9L389.4,237.4L388.1,238.6L385.4,239.9L382.1,247.4L380.9,248.4L378.9,248.1L377.9,249.1L375.1,255.6L374.4,256.4L371.9,255.9L370.9,256.9L368.1,264.4L367.4,265.1L365.6,263.9L364.4,264.4L362.9,267.9L362.4,271.1L362.6,273.9L363.6,275.9L365.4,274.4L366.9,269.4L367.9,268.1L370.4,271.4L371.4,271.1L374.1,265.1L375.1,264.1L376.9,265.4L378.1,265.1L381.9,258.6L384.9,258.9L388.9,252.9L391.4,252.9L392.4,252.4L395.6,247.9L399.1,246.6L403.1,241.6L405.9,240.6L409.9,235.6L412.9,234.4L417.1,229.1L419.6,228.1L424.1,223.1L426.9,222.1L430.6,217.9L434.6,216.1L437.9,212.4L441.1,211.1L444.6,207.4L448.4,205.9L452.4,201.1L455.4,199.1L458.4,194.1L462.4,190.6L464.9,186.4L466.6,184.6L469.4,183.1L472.1,179.6L477.4,175.1L479.9,171.1L487.4,164.4L489.1,163.4L496.6,155.1L499.9,146.6L503.6,141.4L506.1,135.4L507.1,131.1L507.1,128.6Z"/>
<path fill="#0500fd" d="M365.4,266.4L364.1,267.1L363.4,271.1L364.1,272.9L365.6,270.1ZM372.4,257.6L370.6,259.1L369.4,263.1L369.1,266.1L369.9,268.6L370.6,269.4L371.1,269.4L372.4,267.6L374.1,261.4L373.6,258.6ZM505.4,128.1L504.4,128.1L501.1,131.4L497.4,131.4L493.4,134.1L489.9,134.4L486.9,136.9L483.4,136.4L480.1,138.1L476.9,138.1L475.9,138.6L473.9,141.9L472.1,143.6L470.1,143.9L469.1,144.6L466.6,150.9L465.1,152.9L462.4,153.4L458.4,157.6L455.6,158.1L454.4,159.6L452.4,163.9L448.9,166.4L446.6,170.1L444.1,172.6L441.9,173.1L437.6,178.1L435.1,178.4L433.9,179.4L430.9,185.4L429.9,186.1L427.9,186.4L427.1,187.4L424.1,195.1L423.1,196.1L421.1,196.4L419.9,197.9L417.1,205.4L416.1,206.4L414.1,206.6L413.1,207.6L410.1,214.4L408.4,215.6L406.9,215.9L405.9,216.9L402.9,222.6L400.1,223.9L398.9,225.1L396.4,230.1L395.1,231.4L392.4,232.6L389.1,239.1L388.1,240.1L386.1,240.4L385.1,241.4L382.4,249.1L381.4,250.1L378.9,249.6L378.1,250.4L375.4,258.1L375.4,260.4L377.1,263.6L378.1,263.6L378.9,262.9L381.9,256.1L383.9,257.6L384.9,257.6L386.4,255.9L387.6,252.6L388.9,251.4L390.6,251.9L392.1,251.6L395.9,246.6L399.1,245.9L402.9,240.9L405.9,239.9L410.1,234.6L412.9,233.6L417.1,228.4L420.1,227.1L424.1,222.4L427.1,221.4L431.1,216.9L433.9,216.1L437.6,211.9L441.1,210.6L445.1,206.4L448.6,205.1L451.4,201.4L456.1,197.6L458.6,193.1L462.6,189.9L464.9,185.9L466.4,184.4L468.9,183.1L473.9,177.6L476.9,175.4L480.9,169.6L483.4,168.1L486.9,164.4L490.9,161.4L492.9,158.4L496.4,154.9L499.6,146.4L504.9,137.9L506.4,130.9L506.1,129.1Z"/>
<path fill="#2100ee" d="M371.9,259.6L370.6,261.4L370.1,264.1L370.9,266.9L371.6,266.6L372.6,263.4L372.6,260.6ZM379.6,251.4L378.4,251.6L376.9,254.9L376.6,259.9L377.4,261.6L378.9,260.9L380.4,256.4L380.6,253.1ZM505.1,129.4L504.1,129.4L501.4,132.1L497.4,131.9L493.4,134.6L489.9,135.1L486.6,137.6L482.9,137.1L479.6,138.9L476.4,139.1L472.6,144.1L469.9,145.1L468.9,146.1L466.6,152.1L465.1,153.9L462.1,154.1L458.4,158.4L455.9,159.1L454.1,161.1L452.1,165.1L447.9,168.6L444.4,173.6L441.4,174.4L437.6,179.4L434.9,179.6L433.9,180.6L431.1,186.6L429.6,187.9L428.6,187.6L427.6,188.1L424.1,196.9L423.1,197.9L421.1,197.9L419.9,199.4L416.9,206.9L415.6,207.9L413.6,208.4L410.4,214.9L408.9,216.4L406.4,217.4L402.6,223.9L400.4,224.6L398.9,226.1L396.4,231.4L395.1,232.6L393.4,232.9L392.1,233.9L388.4,241.6L386.4,241.6L385.4,242.4L383.9,245.9L382.6,251.4L382.6,252.9L384.1,255.9L385.4,255.9L388.6,249.9L389.1,249.6L390.9,250.9L392.6,250.4L396.1,245.4L399.1,245.1L403.1,239.9L406.4,238.9L410.1,233.9L413.1,232.9L416.4,228.4L419.6,226.9L423.6,222.1L427.4,220.6L430.9,216.4L434.1,215.4L438.1,210.9L441.1,210.1L444.6,206.1L448.9,204.4L450.9,201.4L456.1,197.1L458.4,192.9L462.6,189.4L465.1,185.1L469.4,182.4L471.9,179.1L477.1,174.6L479.9,170.1L483.9,167.4L487.6,163.4L491.4,160.4L496.6,153.9L499.6,145.6L504.6,137.4L505.6,132.1Z"/>
<path fill="#4300d7" d="M378.9,253.4L377.9,254.6L377.4,256.9L378.1,259.1L379.4,256.6L379.4,254.1ZM504.4,130.9L501.1,133.1L497.4,132.4L493.6,135.1L490.1,135.6L486.9,138.1L482.9,137.6L479.4,139.6L476.6,139.6L472.4,145.1L469.1,146.6L466.9,152.6L465.6,154.4L462.4,154.6L458.1,159.4L455.6,160.1L451.9,166.4L448.4,168.9L444.1,174.9L441.4,175.4L437.4,180.6L435.4,180.6L434.1,181.4L431.1,188.4L430.1,189.4L428.6,189.1L427.4,189.9L424.6,197.4L422.9,199.4L421.4,199.4L420.4,200.1L416.9,207.9L413.4,209.9L410.4,215.9L405.9,218.9L403.1,224.4L399.1,226.6L396.1,233.1L395.4,233.9L393.6,233.9L392.4,234.6L388.4,243.4L386.4,243.1L385.4,243.9L384.4,246.1L383.6,250.1L383.6,252.1L384.4,254.1L385.9,253.4L387.4,249.4L388.6,247.6L390.9,249.6L392.4,249.6L395.6,244.4L398.4,244.6L399.4,244.1L403.1,238.9L406.1,238.4L410.1,233.1L412.9,232.4L417.4,226.9L419.9,226.1L424.1,221.1L426.9,220.4L431.1,215.6L434.4,214.6L437.6,210.6L441.4,209.4L445.1,205.1L448.1,204.4L452.4,199.1L454.4,198.4L455.9,196.9L458.1,192.6L462.6,188.9L464.6,185.4L466.1,183.9L468.6,182.6L473.9,176.9L475.9,175.6L479.9,169.6L483.1,167.6L486.9,163.6L489.6,161.9L496.1,154.1L499.6,144.9L504.1,137.4L504.9,134.4Z"/>
<path fill="#5c00c1" d="M386.6,245.1L385.9,245.1L384.9,246.9L384.9,251.6L385.6,251.4L386.9,248.6L387.1,245.9ZM503.6,132.9L501.6,134.1L497.4,132.9L494.1,135.4L490.6,135.9L486.9,138.6L482.9,138.1L479.6,140.1L476.9,140.1L476.1,140.6L472.1,146.1L469.1,147.4L466.6,154.1L465.6,155.1L462.1,155.4L458.1,160.1L455.9,160.6L454.6,161.9L451.9,167.4L448.1,170.1L444.4,175.9L442.1,175.9L440.9,176.6L437.4,181.9L434.9,181.9L433.9,182.9L431.1,189.9L430.1,190.9L427.9,190.9L427.4,191.4L424.6,198.4L422.9,200.4L421.1,200.9L420.1,201.9L417.4,208.1L415.9,209.6L414.1,210.1L413.1,211.1L410.1,217.1L406.1,219.4L402.9,225.9L400.1,226.6L398.9,227.9L395.9,234.9L395.1,235.4L393.4,235.1L392.1,236.1L389.6,243.4L389.6,245.6L390.4,247.6L391.4,248.6L392.9,248.1L395.9,242.6L397.6,243.6L398.9,243.6L400.4,242.1L402.6,238.1L405.9,237.9L409.9,232.4L413.1,231.6L415.6,227.9L417.4,226.1L420.1,225.4L423.9,220.6L427.1,219.6L430.9,215.1L434.6,213.9L437.9,209.9L441.4,208.9L444.6,204.9L448.1,203.9L452.6,198.4L454.6,197.6L455.9,196.4L458.4,191.6L462.1,189.1L464.9,184.6L468.9,182.1L472.1,178.1L477.1,173.9L479.9,169.1L483.4,167.1L487.4,162.9L490.6,160.6L496.6,152.4L500.1,142.9L503.6,136.9L504.1,135.1Z"/>
<path fill="#6100ab" d="M499.4,133.9L498.1,133.4L496.6,133.6L493.9,136.1L490.6,136.4L486.9,139.1L482.6,138.6L479.9,140.6L476.6,140.9L472.1,146.9L470.4,147.1L469.4,147.9L466.9,154.6L465.4,155.9L462.9,155.6L461.9,156.1L458.9,160.4L455.9,161.4L454.6,162.6L451.4,169.1L449.1,170.1L447.1,172.1L445.4,175.9L443.9,177.1L441.9,176.9L440.9,177.4L437.4,183.1L435.1,182.9L433.9,183.9L431.6,190.1L429.9,192.1L428.4,192.1L427.4,192.9L424.1,200.1L420.1,202.9L417.4,209.1L416.1,210.4L414.6,210.6L413.1,211.9L410.4,217.9L409.1,219.1L407.4,219.1L406.1,220.1L402.9,227.1L399.4,228.1L396.1,236.4L395.4,237.1L392.9,236.6L392.1,237.4L390.4,242.6L390.4,245.1L391.6,247.4L392.9,246.9L394.9,241.6L395.9,240.4L397.6,242.4L399.1,242.6L402.9,236.6L405.9,237.1L410.1,231.4L412.9,231.1L414.4,229.6L416.4,226.1L417.4,225.4L418.9,225.4L420.4,224.6L423.6,220.1L427.1,219.1L431.1,214.4L433.9,213.9L438.1,209.1L441.6,208.1L444.9,204.1L448.1,203.4L452.1,198.1L454.6,197.1L455.9,195.9L458.4,191.1L462.1,188.6L464.4,184.9L466.1,183.1L469.1,181.6L471.6,178.4L477.1,173.6L479.4,169.4L480.9,167.9L483.6,166.6L487.6,162.4L491.1,159.6L495.6,153.6L501.4,139.1L501.4,136.4Z"/>
<path fill="#5f0090" d="M393.6,237.9L392.4,238.4L391.4,240.6L391.1,244.9L391.6,245.9L392.9,245.4L393.9,242.9L394.4,239.4ZM499.1,134.4L497.1,133.9L493.9,136.6L490.4,136.9L486.6,139.6L483.1,138.9L479.4,141.4L476.9,141.4L476.1,141.9L473.6,146.1L472.1,147.6L470.4,147.9L469.4,148.6L466.9,155.4L465.6,156.4L462.9,156.1L461.9,156.6L458.1,161.6L455.6,162.1L451.6,169.9L448.9,171.1L446.9,173.1L445.4,176.9L443.9,178.1L442.6,177.6L441.1,177.9L439.9,179.4L437.6,184.1L434.4,184.4L431.1,191.9L427.1,194.4L423.9,201.4L420.1,203.6L416.9,210.9L413.9,211.9L412.4,213.9L410.4,218.9L409.1,220.1L407.1,220.1L405.9,221.4L403.1,228.1L402.4,228.9L400.1,228.6L398.6,230.4L397.1,234.6L396.6,237.9L397.1,239.9L398.4,241.6L399.9,240.9L402.9,235.1L404.9,236.4L405.9,236.4L409.9,230.4L413.1,230.4L416.1,225.6L417.4,224.6L419.9,224.4L423.6,219.4L427.1,218.6L430.9,213.9L433.9,213.4L437.9,208.6L440.9,208.1L444.9,203.6L448.1,202.9L452.4,197.4L454.6,196.6L455.9,195.4L458.1,190.9L462.4,187.9L464.9,183.9L468.4,181.9L473.1,176.4L476.9,173.6L479.4,168.9L480.6,167.6L483.9,166.1L487.1,162.4L489.4,161.1L491.1,159.4L495.4,153.4L497.4,149.4L500.4,140.6L500.6,137.1Z"/>
<path fill="#540071" d="M392.9,239.9L392.1,240.9L392.1,243.6L393.1,242.4ZM498.6,134.6L496.6,134.6L493.6,137.4L490.9,137.1L486.4,140.1L482.9,139.4L479.6,141.9L476.4,142.4L473.6,146.9L472.1,148.4L470.4,148.6L469.4,149.6L467.9,154.1L466.4,156.6L465.4,157.1L462.4,156.9L458.1,162.4L456.9,162.4L455.1,163.4L451.9,170.6L450.9,171.6L449.1,171.9L447.4,173.1L445.4,177.9L444.4,178.9L442.1,178.4L440.9,178.9L438.4,184.1L437.4,185.1L434.9,185.4L433.9,186.4L431.4,192.4L430.4,193.6L428.4,194.1L427.1,195.4L424.1,202.1L423.1,203.1L420.9,203.6L419.9,204.9L417.4,211.4L416.1,212.6L414.1,212.6L413.1,213.6L409.6,221.1L407.1,221.1L405.9,222.4L402.9,231.4L402.4,231.6L400.6,229.9L399.4,230.4L397.9,233.9L397.4,236.9L397.9,239.4L398.6,240.4L399.9,239.6L402.6,232.4L405.1,235.4L406.1,235.4L407.6,233.4L408.9,230.1L410.1,228.9L411.9,229.9L413.1,229.6L416.1,224.6L417.4,223.6L420.1,223.6L423.9,218.4L426.9,218.1L430.9,213.1L434.1,212.6L438.1,207.9L440.9,207.6L444.4,203.4L445.6,202.6L448.1,202.4L452.1,196.9L454.6,196.1L455.9,194.9L457.9,190.6L459.4,189.1L461.1,188.6L465.9,182.6L468.6,181.4L473.6,175.6L476.4,173.9L479.1,168.6L480.4,167.4L483.1,166.4L487.6,161.6L490.6,159.6L495.4,152.6L499.1,143.6L500.1,137.6Z"/>
<path fill="#680048" d="M400.6,231.4L399.1,232.1L398.4,233.9L398.1,237.4L399.1,238.9L400.9,235.4L401.1,232.6ZM498.4,135.1L496.6,135.1L493.4,138.1L490.6,137.6L486.9,140.4L482.6,139.9L479.9,142.4L476.6,142.9L474.9,144.9L472.9,148.6L469.9,149.9L467.6,155.6L465.9,157.6L462.1,157.6L458.1,163.1L456.6,163.1L455.1,164.1L451.6,172.1L448.4,172.9L447.4,173.9L445.1,178.9L444.1,179.6L441.4,179.4L440.4,180.4L438.4,184.9L437.4,185.9L435.4,186.1L433.9,187.4L430.9,194.1L429.9,194.9L428.1,195.1L427.1,196.1L424.1,203.4L423.1,204.4L421.1,204.4L420.1,205.4L417.1,212.9L416.1,213.9L413.6,213.9L412.4,215.9L410.9,220.4L409.4,222.6L407.4,222.1L406.1,223.1L404.4,227.4L403.9,230.6L405.1,234.1L405.9,234.4L406.6,233.9L408.9,228.4L409.9,227.1L411.9,228.9L413.1,228.9L416.9,222.6L419.9,223.1L423.9,217.4L427.1,217.4L430.9,212.4L434.1,212.1L437.9,207.4L441.1,206.9L444.9,202.4L448.4,201.6L452.1,196.4L454.1,195.9L455.6,194.6L457.9,190.1L459.4,188.6L461.1,188.1L465.4,182.6L468.9,180.9L472.1,176.6L476.9,172.9L479.1,168.1L480.1,167.1L483.4,165.9L487.1,161.6L489.1,160.6L491.1,158.6L496.6,149.4L499.1,142.6L499.6,137.4Z"/>
<path fill="#82001f" d="M407.4,223.4L405.9,224.6L404.9,227.4L404.6,230.9L405.6,232.9L407.1,231.9L408.6,227.1L408.6,224.9ZM497.9,135.4L496.6,135.6L493.9,138.6L490.6,138.1L486.6,140.9L483.1,140.1L480.1,142.9L476.1,143.9L473.1,149.1L471.9,150.1L470.9,150.1L469.6,151.4L467.6,156.4L465.4,158.4L463.9,157.9L462.1,158.1L459.6,162.4L458.1,163.9L456.6,163.9L455.4,164.6L453.4,168.4L452.1,172.4L450.9,173.6L448.4,173.6L445.6,178.9L444.4,180.1L441.4,180.1L438.4,185.6L437.1,186.9L435.4,186.9L434.1,187.9L430.9,195.4L428.4,195.9L426.9,197.4L424.1,204.6L423.1,205.6L420.9,205.6L419.9,206.9L417.1,214.4L416.4,215.1L414.4,214.6L413.1,215.6L410.6,222.6L410.6,225.1L411.9,227.6L413.1,227.9L413.9,227.1L416.9,221.1L419.9,222.4L421.6,220.4L423.9,216.1L426.9,216.9L431.1,211.4L434.4,211.4L437.9,206.6L441.1,206.4L444.6,201.9L447.9,201.4L451.6,196.1L455.4,194.4L457.4,190.4L459.4,188.1L461.1,187.6L465.9,181.9L469.4,180.1L471.9,176.6L476.4,173.1L479.1,167.6L480.1,166.6L483.6,165.4L487.6,160.9L489.4,160.1L490.9,158.6L496.6,148.6L498.6,143.1L499.1,137.1Z"/>
<path fill="#91000d" d="M407.4,224.9L406.1,225.6L405.4,227.9L405.4,230.4L406.1,231.4L407.1,230.1L407.9,227.1ZM414.6,215.9L413.1,216.6L411.4,221.6L411.4,224.9L411.9,226.1L412.9,226.9L414.4,225.1L416.4,218.9L415.9,216.9ZM497.9,136.1L496.4,136.4L493.9,139.4L490.4,138.6L487.1,141.1L482.9,140.6L479.6,143.9L476.6,144.1L475.1,145.9L473.4,149.6L470.1,151.9L466.9,157.9L465.6,158.9L463.6,158.4L462.1,158.6L459.1,163.9L455.4,165.4L453.6,168.6L452.1,173.1L451.1,174.1L448.4,174.4L444.9,180.4L441.9,180.6L440.9,181.4L438.1,186.9L437.4,187.6L435.4,187.6L434.1,188.6L430.9,196.6L430.1,197.1L428.4,196.9L427.4,197.6L424.1,206.1L423.4,206.9L421.1,206.6L420.4,207.1L416.9,217.6L419.1,221.4L420.1,221.4L420.9,220.6L423.6,214.9L424.1,214.6L426.1,216.1L427.4,215.9L430.6,210.6L434.1,210.9L438.1,205.6L440.4,206.1L442.4,204.6L444.6,201.1L447.9,200.9L452.1,195.1L455.1,194.1L457.6,189.4L459.1,187.9L461.4,186.9L465.4,181.9L468.6,180.4L472.1,175.9L476.6,172.4L479.6,166.6L483.9,164.9L487.4,160.6L490.4,158.9L496.4,148.1L498.4,142.9L498.9,138.1Z"/>
<path fill="#ab0000" d="M414.6,217.1L413.1,217.9L412.1,220.1L411.9,223.9L412.6,225.4L413.6,225.1L414.9,222.1L415.1,218.1ZM497.9,136.9L496.6,136.9L493.9,140.4L491.4,139.1L490.1,139.1L486.9,141.6L482.9,141.1L479.9,144.4L478.9,144.9L476.4,144.9L473.4,150.4L469.9,153.4L467.9,157.1L465.4,159.4L462.4,159.1L459.1,164.6L455.4,166.1L452.4,173.4L451.1,174.6L448.6,174.9L444.6,181.1L442.1,181.1L440.6,182.4L437.4,188.6L434.6,188.9L430.9,197.9L430.4,198.4L427.9,198.1L426.9,199.4L423.9,208.1L423.1,208.6L420.9,207.9L420.1,208.6L418.1,214.6L418.1,218.1L419.4,220.4L420.9,219.6L422.9,213.9L423.9,212.6L426.4,215.4L427.4,215.1L430.6,209.4L431.1,209.1L433.1,210.4L434.1,210.1L437.9,204.9L440.9,205.4L441.9,204.6L444.6,200.4L448.1,200.1L452.1,194.6L454.4,194.1L455.6,192.9L457.6,188.9L459.1,187.4L461.4,186.4L465.9,181.1L468.9,179.9L472.4,175.1L476.4,172.4L478.9,167.1L480.1,165.9L483.1,165.1L486.9,160.6L489.4,159.4L490.9,157.9L493.9,152.4L494.9,149.1L496.9,146.1L498.4,141.1L498.4,137.9Z"/>
<path fill="#c50000" d="M413.9,218.6L412.6,220.9L412.6,223.1L413.1,223.6L414.4,221.1ZM421.6,209.1L420.4,209.6L418.9,213.4L418.6,217.1L419.6,219.1L420.9,218.4L422.1,214.9L422.6,211.4ZM497.4,137.6L496.1,138.4L494.9,141.1L494.1,141.6L491.9,139.9L490.1,139.6L487.4,141.9L483.1,141.4L479.6,145.1L476.6,145.4L475.6,146.4L472.9,151.9L469.4,155.1L467.6,157.9L465.9,159.6L462.4,159.6L459.6,164.6L458.1,166.1L456.1,166.4L454.9,167.6L452.1,174.4L451.4,175.1L448.6,175.4L444.9,181.6L442.4,181.6L441.1,182.4L438.1,189.1L437.4,189.9L434.9,189.6L433.9,190.9L430.9,199.4L429.9,199.9L428.1,199.1L426.4,201.6L424.6,208.1L424.6,211.1L426.1,214.1L427.1,214.4L427.9,213.6L430.9,207.9L433.6,209.6L435.4,208.1L436.9,204.9L437.9,203.9L441.1,204.6L444.9,199.4L447.9,199.6L451.9,194.1L454.1,193.6L455.4,192.6L457.6,188.4L459.1,186.9L461.6,185.6L466.1,180.6L469.6,178.9L471.9,175.4L476.4,171.9L478.4,167.4L479.9,165.6L483.4,164.6L487.4,159.9L490.4,158.1L493.1,153.4L494.4,148.6L496.6,145.4L497.9,141.1L497.9,138.4Z"/>
<path fill="#ff0100" d="M421.4,210.6L420.1,211.4L419.4,213.6L419.4,216.9L419.9,217.6L420.9,216.9L421.6,214.4ZM491.9,140.4L489.9,140.1L487.1,142.4L484.6,141.6L482.9,141.9L479.6,145.6L476.6,146.1L475.6,147.1L472.6,152.9L469.9,155.1L467.1,158.9L464.9,160.4L462.6,160.1L459.1,165.9L457.4,167.1L456.1,167.1L455.1,168.1L452.4,174.6L451.4,175.6L449.1,175.6L448.4,176.1L445.1,182.1L444.1,182.6L441.9,182.4L440.9,183.4L438.1,190.4L437.4,191.1L435.9,190.6L434.4,191.1L430.9,201.1L430.4,201.6L427.9,200.4L426.9,201.6L425.1,208.9L425.6,211.9L426.4,213.1L427.9,212.6L429.9,206.9L430.9,205.6L433.1,208.6L434.1,208.6L437.9,202.6L439.9,203.9L441.1,203.9L445.1,198.4L446.9,199.1L448.1,198.9L451.1,194.1L452.4,193.1L454.1,193.1L459.1,186.4L461.9,184.9L465.9,180.4L468.9,179.1L472.1,174.6L475.9,172.1L478.4,166.9L479.6,165.4L483.6,164.1L487.1,159.6L489.4,158.6L490.9,157.1L493.4,152.1L494.4,146.4L495.4,144.4ZM496.9,139.1L496.1,140.1L496.1,142.9L497.1,141.4Z"/>
<path fill="#ff0c00" d="M420.9,212.1L419.9,213.6L420.1,216.1L421.1,214.4ZM428.4,201.1L427.4,201.6L425.6,206.9L425.6,210.4L426.6,212.4L427.9,211.9L429.9,205.9L429.9,203.1ZM491.4,140.4L489.6,140.6L487.1,142.6L483.4,141.9L479.4,146.1L476.4,146.6L472.6,153.4L469.4,156.1L467.1,159.1L465.6,160.4L462.6,160.6L459.4,165.9L458.1,167.1L456.1,167.6L455.1,168.6L452.4,175.1L451.1,176.1L448.9,176.1L446.4,180.9L444.6,182.9L442.4,182.6L440.9,183.9L437.9,191.6L436.9,192.1L434.9,191.4L432.6,196.1L431.1,203.6L433.1,207.9L434.1,208.1L435.1,207.1L437.6,201.9L438.4,201.9L440.6,203.6L442.4,202.1L443.9,198.9L444.9,197.9L447.9,198.6L452.1,192.9L454.1,192.6L455.1,191.9L458.6,186.4L461.9,184.6L465.9,180.1L468.9,178.9L472.1,174.4L476.4,171.1L478.4,166.6L479.6,165.1L483.4,164.1L487.1,159.4L489.4,158.4L490.9,156.9L493.1,152.4L493.9,147.4L493.4,142.9Z"/>
<path fill="#ff3100" d="M428.1,202.9L427.4,203.4L426.4,206.1L426.4,209.6L427.1,210.6L428.1,209.4L428.9,206.6L428.9,204.4ZM491.4,141.1L490.4,140.9L487.1,143.1L483.4,142.4L479.9,146.4L476.9,147.1L475.6,148.4L472.6,154.4L470.1,156.1L466.1,160.6L462.6,161.4L459.1,166.9L455.1,169.4L452.6,175.6L451.1,176.9L449.4,176.6L448.4,177.4L445.9,182.6L444.6,183.9L442.1,183.6L440.9,184.9L437.9,193.6L437.1,194.1L435.6,192.9L434.9,192.9L433.4,195.4L432.4,199.1L432.1,203.4L432.9,205.9L433.6,206.6L434.9,206.1L437.6,199.4L438.1,199.4L439.9,202.1L440.9,202.6L442.4,201.1L443.9,197.4L444.9,196.4L446.9,197.6L448.1,197.6L450.9,193.1L452.1,191.9L454.4,191.6L459.1,185.1L462.1,183.9L465.9,179.6L468.6,178.6L470.4,176.9L472.1,173.9L476.1,170.9L478.1,166.4L479.9,164.4L483.1,163.9L487.1,158.9L489.4,157.9L490.9,156.4L493.1,151.1L493.1,144.6L492.6,142.6Z"/>
<path fill="#ff540a" d="M435.1,194.4L433.6,196.4L432.9,199.4L432.9,203.1L433.6,205.1L434.4,205.1L435.4,203.6L436.6,198.9L436.4,195.6ZM491.1,141.6L489.9,141.6L487.1,143.6L484.4,142.6L483.1,142.9L479.6,147.1L476.4,148.1L472.4,155.9L469.9,157.1L466.1,161.1L462.9,161.9L458.9,167.9L455.1,170.1L452.4,176.9L451.4,177.6L449.6,177.4L448.4,178.4L446.1,183.1L444.4,185.1L441.9,184.9L441.1,185.6L439.9,188.6L438.6,194.1L438.6,197.4L440.6,201.4L442.1,200.4L444.6,194.9L445.4,194.9L446.9,196.6L447.9,196.9L449.6,194.9L451.4,191.4L452.4,190.6L454.4,190.6L455.1,190.1L459.1,184.1L462.1,183.4L465.9,179.1L469.9,177.1L472.1,173.4L475.9,170.6L478.4,165.4L479.9,163.9L483.6,163.1L486.1,159.4L490.9,155.9L492.9,150.6L492.6,144.6Z"/>
<path fill="#ff7626" d="M434.9,196.1L433.9,197.6L433.4,201.9L434.1,203.1L435.6,200.4L435.6,197.1ZM491.1,142.4L490.1,142.1L486.9,144.1L484.6,143.1L483.1,143.4L479.4,147.9L477.4,148.1L475.9,149.4L474.1,152.4L472.9,156.4L471.6,157.6L469.4,158.1L466.1,161.6L462.6,162.6L459.4,167.9L458.1,169.1L455.6,170.1L452.6,177.4L451.1,178.6L448.6,179.1L445.1,185.9L444.1,186.9L442.9,186.1L441.9,186.1L441.1,186.9L439.4,192.6L439.4,197.1L440.6,199.9L441.9,199.4L443.6,194.4L444.9,192.6L446.6,195.1L448.1,195.9L452.4,188.6L453.9,189.6L454.9,189.4L459.4,182.9L462.1,182.9L466.1,178.4L468.9,177.6L471.9,173.1L476.1,169.6L478.6,164.4L480.4,163.1L483.1,163.1L486.1,158.9L490.9,155.4L492.6,150.4L492.1,144.4Z"/>
<path fill="#ffa148" d="M442.4,187.4L441.4,187.9L440.6,189.4L439.9,192.6L439.9,196.4L440.9,198.6L442.4,196.9L443.9,191.6L443.6,188.6ZM490.6,142.9L487.6,144.4L485.9,144.4L484.6,143.6L482.6,144.1L479.6,148.4L477.4,148.6L475.9,149.9L472.1,158.6L469.6,158.6L465.9,162.4L462.6,163.1L459.4,168.6L458.1,169.9L456.6,170.1L455.4,171.1L453.1,177.4L450.9,180.1L449.1,179.9L448.1,180.9L445.4,186.6L445.1,190.1L446.6,193.9L447.6,194.9L449.1,193.9L451.9,186.4L453.9,188.4L454.9,188.6L456.6,186.6L459.1,181.9L461.6,182.6L466.1,177.9L468.9,177.1L472.4,171.9L475.9,169.4L478.4,164.1L480.1,162.6L482.9,162.9L483.6,162.4L486.1,158.4L490.9,154.9L492.1,151.6L492.4,148.6L491.6,144.1Z"/>
<path fill="#ffa522" d="M442.4,188.9L441.4,189.4L440.6,191.1L440.4,195.1L440.9,196.4L441.6,196.4L442.9,192.9L442.9,189.9ZM449.6,181.1L448.1,181.9L445.9,186.9L445.9,189.9L446.6,192.4L447.6,193.6L448.4,193.6L449.4,192.4L450.6,188.9L451.1,183.6L450.4,181.6ZM490.6,143.6L489.6,143.6L487.4,144.9L485.9,144.9L484.6,144.1L482.9,144.4L479.4,149.1L476.9,149.4L475.9,150.4L474.6,152.6L472.9,159.1L472.4,159.6L469.1,159.4L465.9,162.9L462.4,163.9L458.9,170.1L457.6,170.9L456.4,170.9L455.4,171.9L451.9,180.9L452.1,183.9L454.4,187.6L455.1,187.6L456.6,185.9L457.9,182.1L458.9,180.9L461.4,182.1L462.1,181.9L465.6,177.6L469.4,176.4L472.1,171.6L475.9,168.6L478.9,162.9L480.1,162.1L481.9,162.6L483.1,162.4L486.6,157.1L489.4,155.9L490.9,154.4L491.9,151.6L492.1,148.9L491.4,144.9Z"/>
<path fill="#ffa506" d="M449.4,182.4L447.6,183.6L446.4,186.6L446.4,189.6L447.9,192.6L449.1,191.6L450.1,189.1L450.1,183.9ZM490.4,144.4L489.1,144.4L486.9,145.6L484.6,144.6L482.9,144.9L479.6,149.6L477.1,149.9L475.6,151.4L474.4,154.1L473.4,159.9L472.6,160.9L470.6,159.9L469.1,159.9L465.4,163.9L463.1,163.9L462.1,164.6L459.1,170.6L455.6,172.4L452.6,179.9L452.9,183.6L453.6,185.6L454.6,186.6L456.6,185.1L457.6,181.4L458.6,180.1L459.4,180.1L460.9,181.4L462.1,181.4L463.6,180.1L465.9,176.9L469.1,176.1L472.4,170.6L475.6,168.1L478.4,162.9L479.9,161.6L482.9,162.1L484.6,160.1L486.1,157.1L487.6,155.6L489.4,155.4L490.6,154.1L491.6,151.6L491.9,149.1L491.1,145.4Z"/>
<path fill="#ce9800" d="M448.9,183.6L447.6,184.6L446.9,186.4L446.9,189.4L447.9,191.4L449.1,190.6L449.6,189.1L449.6,185.1ZM490.4,145.1L489.4,144.9L487.1,146.1L484.6,145.1L483.1,145.1L479.4,150.4L477.1,150.4L475.6,151.9L474.6,154.1L473.9,160.4L473.1,162.4L470.9,160.6L469.1,160.4L465.6,164.4L463.4,164.4L461.6,165.9L459.4,171.1L458.1,172.4L456.4,172.6L454.9,174.9L453.1,179.9L453.1,182.6L454.6,185.6L455.4,185.6L456.4,184.6L457.4,180.4L458.4,179.1L459.1,179.1L461.1,180.9L462.1,180.9L463.6,179.6L465.6,176.4L468.9,175.9L470.6,173.6L473.1,168.6L475.6,167.1L478.6,161.9L479.6,161.1L481.4,161.6L483.4,161.4L486.4,156.1L487.4,155.1L489.1,154.9L490.6,153.6L491.4,151.4L491.4,147.6Z"/>
<path fill="#908e08" d="M448.6,184.9L447.9,185.1L447.1,187.1L447.1,188.6L448.1,190.4L448.9,189.9L449.4,188.4L449.4,186.1ZM489.9,145.4L487.1,146.6L483.4,145.4L479.4,150.9L477.1,150.9L476.1,151.6L474.6,155.1L474.1,163.6L473.4,164.6L471.6,161.9L469.6,160.6L468.1,161.6L465.4,165.1L463.1,164.9L461.9,165.9L459.1,172.1L458.1,173.1L456.4,173.4L455.1,175.1L453.4,180.1L453.6,183.1L454.6,184.9L456.1,184.4L456.9,182.6L457.1,179.9L458.1,178.4L458.9,178.1L460.6,180.1L461.9,180.6L463.4,179.6L465.9,175.6L469.1,175.4L472.4,169.6L473.4,166.4L474.1,166.1L475.1,166.6L479.1,160.9L480.4,160.6L481.6,161.4L482.9,161.4L484.4,159.6L486.6,155.1L487.6,154.4L489.4,154.4L490.4,153.4L491.1,151.6L491.4,148.9L490.9,146.6Z"/>
<path fill="#a2a915" d="M448.4,185.9L447.6,186.9L448.1,189.1L448.9,188.4L448.9,186.4ZM470.4,161.1L469.1,161.1L465.4,165.6L462.6,165.6L461.4,167.1L458.6,173.6L455.9,174.6L453.6,180.4L453.6,181.9L454.9,184.4L456.4,183.4L456.6,180.4L458.1,177.4L458.9,177.4L461.4,180.1L462.4,180.1L465.9,175.1L468.4,175.4L469.9,174.1L471.9,170.1L472.6,167.1L472.1,163.4ZM489.9,145.9L486.4,147.1L483.6,145.6L482.6,146.4L479.9,151.1L478.9,151.6L476.9,151.4L474.9,154.6L474.4,157.6L474.4,161.9L475.1,164.6L475.6,164.6L479.6,160.1L481.9,161.1L483.1,160.9L484.6,158.9L486.6,154.4L487.6,153.6L489.4,153.9L490.1,153.4L491.1,150.6L491.1,148.6Z"/>
<path fill="#cdce23" d="M456.9,175.1L455.9,175.6L453.9,180.9L454.9,183.6L455.9,183.4L456.4,181.9L456.4,179.6L457.4,176.9ZM469.9,161.4L467.9,162.6L465.6,166.1L462.9,165.9L460.9,168.6L458.9,174.1L458.9,175.9L460.6,179.1L461.9,179.9L463.4,178.9L465.6,174.6L469.1,174.6L470.9,171.9L472.1,168.4L472.1,164.9L471.6,163.1ZM489.9,146.4L488.9,146.4L487.4,147.9L486.6,147.9L484.9,146.4L483.4,146.1L479.6,151.9L476.9,151.9L475.9,152.9L474.6,157.4L474.6,161.1L475.6,163.6L476.4,163.4L479.6,159.6L481.6,160.6L482.9,160.6L484.4,158.9L487.1,152.9L488.4,153.4L489.9,153.1L490.9,150.6L490.9,148.6Z"/>
<path fill="#f2f22e" d="M456.4,176.9L454.4,180.4L454.4,181.9L455.1,182.9L455.9,182.4ZM470.6,162.1L469.1,161.9L465.6,166.6L462.9,166.4L461.6,167.6L459.4,173.9L459.4,175.9L461.1,179.1L462.4,179.4L463.4,178.4L464.6,175.4L465.9,173.9L468.4,174.6L470.1,172.9L471.9,168.4L471.9,165.4ZM489.6,146.9L488.9,146.9L487.1,148.9L485.1,146.9L483.6,146.4L479.4,152.6L476.9,152.4L475.9,153.4L474.9,156.9L474.9,160.9L475.9,162.6L476.6,162.6L479.6,159.1L481.9,160.4L483.6,159.6L485.4,156.4L486.6,152.4L487.6,151.9L489.4,152.9L490.1,152.1L490.6,148.6Z"/>
<path fill="#ffff40" d="M470.4,162.4L469.4,162.1L467.9,163.4L465.6,167.4L462.6,166.9L461.9,167.6L459.6,174.4L459.9,176.4L461.1,178.6L462.4,178.9L463.1,178.4L465.9,173.1L468.6,174.1L469.9,172.9L471.6,168.4L471.4,164.1ZM489.6,147.6L488.6,148.1L487.9,150.4L489.1,152.1L490.1,150.9L490.1,148.4ZM484.9,147.1L483.4,146.9L482.6,147.6L480.6,151.9L479.4,153.4L476.9,152.9L475.9,153.9L475.1,156.4L475.1,160.4L475.9,161.9L477.1,161.6L479.9,158.4L481.9,159.9L482.9,159.9L484.4,158.1L486.6,150.4L486.1,148.6Z"/>
</g>
<path d="M91,544h1v1h-1zM92,543h1v1h-1zM96,539h1v1h-1zM100,535h1v1h-1zM101,534h1v1h-1zM102,533h1v1h-1zM103,532h1v1h-1zM104,531h1v1h-1zM105,530h1v1h-1zM106,529h1v1h-1zM110,525h1v1h-1zM114,521h1v1h-1zM115,520h1v1h-1zM116,519h1v1h-1zM117,518h1v1h-1zM118,517h1v1h-1zM119,516h1v1h-1zM120,515h1v1h-1zM124,511h1v1h-1zM128,507h1v1h-1zM129,506h1v1h-1zM130,505h1v1h-1zM131,504h1v1h-1zM132,503h1v1h-1zM133,502h1v1h-1zM134,501h1v1h-1zM138,497h1v1h-1zM142,493h1v1h-1zM143,492h1v1h-1zM144,491h1v1h-1zM145,490h1v1h-1zM146,489h1v1h-1zM147,488h1v1h-1zM148,487h1v1h-1zM152,483h1v1h-1zM156,479h1v1h-1zM157,478h1v1h-1zM158,477h1v1h-1zM159,476h1v1h-1zM160,475h1v1h-1zM161,474h1v1h-1zM162,473h1v1h-1zM166,469h1v1h-1zM170,465h1v1h-1zM171,464h1v1h-1zM172,463h1v1h-1zM173,462h1v1h-1zM174,461h1v1h-1zM175,460h1v1h-1zM176,459h1v1h-1zM180,455h1v1h-1zM184,451h1v1h-1zM185,450h1v1h-1zM186,449h1v1h-1zM187,448h1v1h-1zM188,447h1v1h-1zM189,446h1v1h-1zM190,445h1v1h-1zM194,441h1v1h-1zM198,437h1v1h-1zM199,436h1v1h-1zM200,435h1v1h-1zM201,434h1v1h-1zM202,433h1v1h-1zM203,432h1v1h-1zM204,431h1v1h-1zM208,427h1v1h-1zM212,423h1v1h-1zM213,422h1v1h-1zM214,421h1v1h-1zM215,420h1v1h-1zM216,419h1v1h-1zM217,418h1v1h-1zM218,417h1v1h-1zM222,413h1v1h-1zM226,409h1v1h-1zM227,408h1v1h-1zM228,407h1v1h-1zM229,406h1v1h-1zM230,405h1v1h-1zM231,404h1v1h-1zM232,403h1v1h-1zM236,399h1v1h-1zM240,395h1v1h-1zM241,394h1v1h-1zM242,393h1v1h-1zM243,392h1v1h-1zM244,391h1v1h-1zM245,390h1v1h-1zM246,389h1v1h-1zM250,385h1v1h-1zM254,381h1v1h-1zM255,380h1v1h-1zM256,379h1v1h-1zM257,378h1v1h-1zM258,377h1v1h-1zM259,376h1v1h-1zM260,375h1v1h-1zM264,371h1v1h-1zM268,367h1v1h-1zM269,366h1v1h-1zM270,365h1v1h-1zM271,364h1v1h-1zM272,363h1v1h-1zM273,362h1v1h-1zM274,361h1v1h-1zM278,357h1v1h-1zM282,353h1v1h-1zM283,352h1v1h-1zM284,351h1v1h-1zM285,350h1v1h-1zM286,349h1v1h-1zM287,348h1v1h-1zM288,347h1v1h-1zM292,343h1v1h-1zM296,339h1v1h-1zM297,338h1v1h-1zM298,337h1v1h-1zM299,336h1v1h-1zM300,335h1v1h-1zM301,334h1v1h-1zM302,333h1v1h-1zM306,329h1v1h-1zM310,325h1v1h-1zM311,324h1v1h-1zM312,323h1v1h-1zM313,322h1v1h-1zM314,321h1v1h-1zM315,320h1v1h-1zM316,319h1v1h-1zM320,315h1v1h-1zM324,311h1v1h-1zM325,310h1v1h-1zM326,309h1v1h-1zM327,308h1v1h-1zM328,307h1v1h-1zM329,306h1v1h-1zM330,305h1v1h-1zM334,301h1v1h-1zM338,297h1v1h-1zM339,296h1v1h-1zM340,295h1v1h-1zM341,294h1v1h-1zM342,293h1v1h-1zM343,292h1v1h-1zM344,291h1v1h-1zM348,287h1v1h-1zM352,283h1v1h-1zM353,282h1v1h-1zM354,281h1v1h-1zM355,280h1v1h-1zM356,279h1v1h-1zM357,278h1v1h-1zM358,277h1v1h-1zM362,273h1v1h-1zM366,269h1v1h-1zM367,268h1v1h-1zM368,267h1v1h-1zM369,266h1v1h-1zM370,265h1v1h-1zM371,264h1v1h-1zM372,263h1v1h-1zM376,259h1v1h-1zM380,255h1v1h-1zM381,254h1v1h-1zM382,253h1v1h-1zM383,252h1v1h-1zM384,251h1v1h-1zM385,250h1v1h-1zM386,249h1v1h-1zM390,245h1v1h-1zM394,241h1v1h-1zM395,240h1v1h-1zM396,239h1v1h-1zM397,238h1v1h-1zM398,237h1v1h-1zM399,236h1v1h-1zM400,235h1v1h-1zM404,231h1v1h-1zM408,227h1v1h-1zM409,226h1v1h-1zM410,225h1v1h-1zM411,224h1v1h-1zM412,223h1v1h-1zM413,222h1v1h-1zM414,221h1v1h-1zM418,217h1v1h-1zM422,213h1v1h-1zM423,212h1v1h-1zM424,211h1v1h-1zM425,210h1v1h-1zM426,209h1v1h-1zM427,208h1v1h-1zM428,207h1v1h-1zM432,203h1v1h-1zM436,199h1v1h-1zM437,198h1v1h-1zM438,197h1v1h-1zM439,196h1v1h-1zM440,195h1v1h-1zM441,194h1v1h-1zM442,193h1v1h-1zM446,189h1v1h-1zM450,185h1v1h-1zM451,184h1v1h-1zM452,183h1v1h-1zM453,182h1v1h-1zM454,181h1v1h-1zM455,180h1v1h-1zM456,179h1v1h-1zM460,175h1v1h-1zM464,171h1v1h-1zM465,170h1v1h-1zM466,169h1v1h-1zM467,168h1v1h-1zM468,167h1v1h-1zM469,166h1v1h-1zM470,165h1v1h-1zM474,161h1v1h-1zM478,157h1v1h-1zM479,156h1v1h-1zM480,155h1v1h-1zM481,154h1v1h-1zM482,153h1v1h-1zM483,152h1v1h-1zM484,151h1v1h-1zM488,147h1v1h-1zM492,143h1v1h-1zM493,142h1v1h-1zM494,141h1v1h-1zM495,140h1v1h-1zM496,139h1v1h-1zM497,138h1v1h-1zM498,137h1v1h-1zM502,133h1v1h-1zM506,129h1v1h-1zM507,128h1v1h-1zM508,127h1v1h-1zM509,126h1v1h-1zM510,125h1v1h-1zM511,124h1v1h-1zM512,123h1v1h-1zM516,119h1v1h-1zM520,115h1v1h-1zM521,114h1v1h-1zM522,113h1v1h-1zM523,112h1v1h-1zM524,111h1v1h-1zM525,110h1v1h-1zM526,109h1v1h-1zM530,105h1v1h-1zM534,101h1v1h-1zM535,100h1v1h-1zM536,99h1v1h-1zM537,98h1v1h-1zM538,97h1v1h-1zM539,96h1v1h-1zM540,95h1v1h-1zM544,91h1v1h-1zM548,87h1v1h-1zM549,86h1v1h-1zM550,85h1v1h-1zM551,84h1v1h-1zM552,83h1v1h-1zM553,82h1v1h-1zM554,81h1v1h-1zM558,77h1v1h-1zM562,73h1v1h-1zM563,72h1v1h-1zM564,71h1v1h-1zM565,70h1v1h-1zM566,69h1v1h-1zM567,68h1v1h-1zM568,67h1v1h-1z" fill="#000" shape-rendering="crispEdges"/>
<path d="M90.5,65.5H570.5V545.5H90.5ZM105.5,545.5v-5M105.5,65.5v5M90.5,530.5h5M570.5,530.5h-5M121.5,545.5v-10M121.5,65.5v10M90.5,514.5h10M570.5,514.5h-10M136.5,545.5v-5M136.5,65.5v5M90.5,499.5h5M570.5,499.5h-5M152.5,545.5v-5M152.5,65.5v5M90.5,483.5h5M570.5,483.5h-5M167.5,545.5v-5M167.5,65.5v5M90.5,468.5h5M570.5,468.5h-5M183.5,545.5v-5M183.5,65.5v5M90.5,452.5h5M570.5,452.5h-5M198.5,545.5v-10M198.5,65.5v10M90.5,437.5h10M570.5,437.5h-10M214.5,545.5v-5M214.5,65.5v5M90.5,421.5h5M570.5,421.5h-5M229.5,545.5v-5M229.5,65.5v5M90.5,406.5h5M570.5,406.5h-5M245.5,545.5v-5M245.5,65.5v5M90.5,390.5h5M570.5,390.5h-5M260.5,545.5v-5M260.5,65.5v5M90.5,375.5h5M570.5,375.5h-5M276.5,545.5v-10M276.5,65.5v10M90.5,359.5h10M570.5,359.5h-10M291.5,545.5v-5M291.5,65.5v5M90.5,344.5h5M570.5,344.5h-5M307.5,545.5v-5M307.5,65.5v5M90.5,328.5h5M570.5,328.5h-5M322.5,545.5v-5M322.5,65.5v5M90.5,313.5h5M570.5,313.5h-5M338.5,545.5v-5M338.5,65.5v5M90.5,297.5h5M570.5,297.5h-5M353.5,545.5v-10M353.5,65.5v10M90.5,282.5h10M570.5,282.5h-10M369.5,545.5v-5M369.5,65.5v5M90.5,266.5h5M570.5,266.5h-5M384.5,545.5v-5M384.5,65.5v5M90.5,251.5h5M570.5,251.5h-5M400.5,545.5v-5M400.5,65.5v5M90.5,235.5h5M570.5,235.5h-5M415.5,545.5v-5M415.5,65.5v5M90.5,220.5h5M570.5,220.5h-5M431.5,545.5v-10M431.5,65.5v10M90.5,204.5h10M570.5,204.5h-10M446.5,545.5v-5M446.5,65.5v5M90.5,189.5h5M570.5,189.5h-5M462.5,545.5v-5M462.5,65.5v5M90.5,173.5h5M570.5,173.5h-5M477.5,545.5v-5M477.5,65.5v5M90.5,158.5h5M570.5,158.5h-5M493.5,545.5v-5M493.5,65.5v5M90.5,142.5h5M570.5,142.5h-5M508.5,545.5v-10M508.5,65.5v10M90.5,127.5h10M570.5,127.5h-10M524.5,545.5v-5M524.5,65.5v5M90.5,111.5h5M570.5,111.5h-5M539.5,545.5v-5M539.5,65.5v5M90.5,96.5h5M570.5,96.5h-5M555.5,545.5v-5M555.5,65.5v5M90.5,80.5h5M570.5,80.5h-5" fill="none" stroke="#000" stroke-width="1" shape-rendering="crispEdges"/>
<rect x="502" y="240" width="18" height="269" fill="url(#cb)"/>
<rect x="501" y="240" width="1" height="270" fill="#000"/>
<text y="40.5" font-size="14.8"><tspan x="232.7" textLength="16.5" lengthAdjust="spacingAndGlyphs">BT</tspan> <tspan x="260.8" textLength="71.5" lengthAdjust="spacingAndGlyphs">pxy_clear</tspan> <tspan x="345.2" textLength="22.9" lengthAdjust="spacingAndGlyphs">for</tspan> <tspan x="378.2" textLength="49.0" lengthAdjust="spacingAndGlyphs">IR12.0</tspan></text>
<text y="55.5" font-size="14.8"><tspan x="120.0" textLength="42.5" lengthAdjust="spacingAndGlyphs">MSG3</tspan> <tspan x="172.0" textLength="173.2" lengthAdjust="spacingAndGlyphs">20260101_20260131</tspan> <tspan x="358.9" textLength="25.7" lengthAdjust="spacingAndGlyphs">sea</tspan> <tspan x="395.6" textLength="18.4" lengthAdjust="spacingAndGlyphs">BT</tspan> <tspan x="424.5" textLength="30.2" lengthAdjust="spacingAndGlyphs">bias</tspan> <tspan x="465.3" textLength="74.7" lengthAdjust="spacingAndGlyphs">corrected</tspan></text>
<text y="90" font-size="13"><tspan x="114.5" textLength="41.0" lengthAdjust="spacingAndGlyphs">corr.=</tspan> <tspan x="163.0" textLength="45.0" lengthAdjust="spacingAndGlyphs">0.9875</tspan></text>
<text y="120" font-size="13"><tspan x="114.5" textLength="31.5" lengthAdjust="spacingAndGlyphs">rmse</tspan> <tspan x="154.8" textLength="8.2" lengthAdjust="spacingAndGlyphs">=</tspan> <tspan x="172.3" textLength="44.4" lengthAdjust="spacingAndGlyphs">0.7190</tspan></text>
<text y="149.5" font-size="13"><tspan x="114.5" textLength="25.2" lengthAdjust="spacingAndGlyphs">bias</tspan> <tspan x="148.5" textLength="8.2" lengthAdjust="spacingAndGlyphs">=</tspan> <tspan x="166.0" textLength="44.8" lengthAdjust="spacingAndGlyphs">0.0732</tspan></text>
<text y="180" font-size="13"><tspan x="114.5" textLength="14.0" lengthAdjust="spacingAndGlyphs">N.</tspan> <tspan x="135.0" textLength="21.0" lengthAdjust="spacingAndGlyphs">p.=</tspan> <tspan x="174.2" textLength="46.4" lengthAdjust="spacingAndGlyphs">124709</tspan></text>
<text x="109.3" y="564" font-size="13.5" text-anchor="start" textLength="23.4" lengthAdjust="spacingAndGlyphs">270</text>
<text x="61.7" y="519.7" font-size="13.5" text-anchor="start" textLength="23.3" lengthAdjust="spacingAndGlyphs">270</text>
<text x="186.7" y="564" font-size="13.5" text-anchor="start" textLength="23.4" lengthAdjust="spacingAndGlyphs">275</text>
<text x="61.7" y="442.3" font-size="13.5" text-anchor="start" textLength="23.3" lengthAdjust="spacingAndGlyphs">275</text>
<text x="264.1" y="564" font-size="13.5" text-anchor="start" textLength="23.4" lengthAdjust="spacingAndGlyphs">280</text>
<text x="61.7" y="364.9" font-size="13.5" text-anchor="start" textLength="23.3" lengthAdjust="spacingAndGlyphs">280</text>
<text x="341.5" y="564" font-size="13.5" text-anchor="start" textLength="23.4" lengthAdjust="spacingAndGlyphs">285</text>
<text x="61.7" y="287.5" font-size="13.5" text-anchor="start" textLength="23.3" lengthAdjust="spacingAndGlyphs">285</text>
<text x="418.9" y="564" font-size="13.5" text-anchor="start" textLength="23.4" lengthAdjust="spacingAndGlyphs">290</text>
<text x="61.7" y="210.1" font-size="13.5" text-anchor="start" textLength="23.3" lengthAdjust="spacingAndGlyphs">290</text>
<text x="496.4" y="564" font-size="13.5" text-anchor="start" textLength="23.4" lengthAdjust="spacingAndGlyphs">295</text>
<text x="61.7" y="132.6" font-size="13.5" text-anchor="start" textLength="23.3" lengthAdjust="spacingAndGlyphs">295</text>
<text y="580" font-size="13.2"><tspan x="275.9" textLength="40.1" lengthAdjust="spacingAndGlyphs">IR12.0</tspan> <tspan x="324.2" textLength="37.8" lengthAdjust="spacingAndGlyphs">SEVIRI</tspan> <tspan x="370.8" textLength="14.5" lengthAdjust="spacingAndGlyphs">BT</tspan></text>
<text y="0" font-size="13.5" transform="translate(50,440) rotate(-90)"><tspan x="0.4" textLength="44.2" lengthAdjust="spacingAndGlyphs">IR12.0</tspan> <tspan x="48.7" textLength="133.3" lengthAdjust="spacingAndGlyphs">ECMWF+RTTOV-11.2</tspan> <tspan x="190.5" textLength="56.0" lengthAdjust="spacingAndGlyphs">synthetic</tspan> <tspan x="254.5" textLength="15.7" lengthAdjust="spacingAndGlyphs">BT</tspan></text>
<text y="236" font-size="10.4" style="stroke-width:0.12px"><tspan x="476.7" textLength="38.3" lengthAdjust="spacingAndGlyphs">Number</tspan> <tspan x="520.3" textLength="8.7" lengthAdjust="spacingAndGlyphs">of</tspan> <tspan x="535.0" textLength="7.6" lengthAdjust="spacingAndGlyphs">p.</tspan></text>
<text x="483.7" y="278.7" font-size="7.9" text-anchor="start" textLength="14.6" lengthAdjust="spacingAndGlyphs" style="stroke:none">500</text>
<text x="483.7" y="325.4" font-size="7.9" text-anchor="start" textLength="14.6" lengthAdjust="spacingAndGlyphs" style="stroke:none">400</text>
<text x="483.7" y="372.1" font-size="7.9" text-anchor="start" textLength="14.6" lengthAdjust="spacingAndGlyphs" style="stroke:none">300</text>
<text x="483.7" y="418.8" font-size="7.9" text-anchor="start" textLength="14.6" lengthAdjust="spacingAndGlyphs" style="stroke:none">200</text>
<text x="483.7" y="465.5" font-size="7.9" text-anchor="start" textLength="14.6" lengthAdjust="spacingAndGlyphs" style="stroke:none">100</text>
</svg></body></html>
